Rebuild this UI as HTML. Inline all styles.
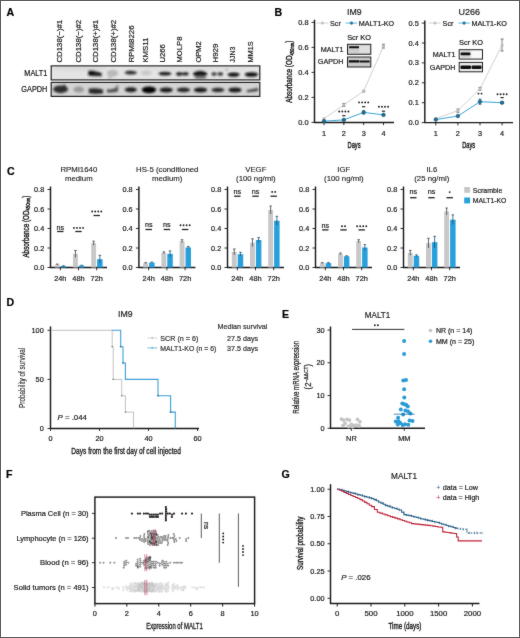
<!DOCTYPE html>
<html><head><meta charset="utf-8"><style>
html,body{margin:0;padding:0;background:#fff;}
svg{display:block;}
text{font-family:"Liberation Sans", sans-serif;}
</style></head><body>
<svg width="520" height="638" viewBox="0 0 520 638">
<defs><filter id="soft" filterUnits="userSpaceOnUse" x="0" y="0" width="520" height="638" color-interpolation-filters="sRGB"><feConvolveMatrix order="3" kernelMatrix="1 2 1 2 32 2 1 2 1" edgeMode="duplicate"/></filter></defs>
<g fill="#1a1a1a" filter="url(#soft)"><rect width="520" height="638" fill="#fff"/>
<defs><filter id="bl" x="-50%" y="-50%" width="200%" height="200%"><feGaussianBlur stdDeviation="1.0"/></filter><filter id="bl2" x="-50%" y="-50%" width="200%" height="200%"><feGaussianBlur stdDeviation="0.8"/></filter><clipPath id="cm"><rect x="51.5" y="66.5" width="208" height="13"/></clipPath><clipPath id="cg"><rect x="51.5" y="83" width="208" height="13"/></clipPath></defs>
<text x="0" y="0" transform="translate(6.50 15.50) scale(1 1.0)" font-size="10.6" fill="#000" font-weight="bold" stroke="#000" stroke-width="0.2">A</text>
<text x="0" y="0" font-size="7.6" textLength="42.8" lengthAdjust="spacingAndGlyphs" stroke="#1a1a1a" stroke-width="0.2" transform="translate(61.85 62.6) rotate(-90)">CD138(−)#1</text>
<text x="0" y="0" font-size="7.6" textLength="42.8" lengthAdjust="spacingAndGlyphs" stroke="#1a1a1a" stroke-width="0.2" transform="translate(80.85 62.6) rotate(-90)">CD138(−)#2</text>
<text x="0" y="0" font-size="7.6" textLength="42.8" lengthAdjust="spacingAndGlyphs" stroke="#1a1a1a" stroke-width="0.2" transform="translate(97.95 62.6) rotate(-90)">CD138(+)#1</text>
<text x="0" y="0" font-size="7.6" textLength="42.8" lengthAdjust="spacingAndGlyphs" stroke="#1a1a1a" stroke-width="0.2" transform="translate(116.25 62.6) rotate(-90)">CD138(+)#2</text>
<text x="0" y="0" font-size="7.6" textLength="37.2" lengthAdjust="spacingAndGlyphs" stroke="#1a1a1a" stroke-width="0.2" transform="translate(134.25 62.6) rotate(-90)">RPMI8226</text>
<text x="0" y="0" font-size="7.6" textLength="24.8" lengthAdjust="spacingAndGlyphs" stroke="#1a1a1a" stroke-width="0.2" transform="translate(148.15 62.6) rotate(-90)">KMS11</text>
<text x="0" y="0" font-size="7.6" textLength="18.4" lengthAdjust="spacingAndGlyphs" stroke="#1a1a1a" stroke-width="0.2" transform="translate(165.05 62.6) rotate(-90)">U266</text>
<text x="0" y="0" font-size="7.6" textLength="26.0" lengthAdjust="spacingAndGlyphs" stroke="#1a1a1a" stroke-width="0.2" transform="translate(181.95 62.6) rotate(-90)">MOLP8</text>
<text x="0" y="0" font-size="7.6" textLength="21.4" lengthAdjust="spacingAndGlyphs" stroke="#1a1a1a" stroke-width="0.2" transform="translate(201.15 62.6) rotate(-90)">OPM2</text>
<text x="0" y="0" font-size="7.6" textLength="19.0" lengthAdjust="spacingAndGlyphs" stroke="#1a1a1a" stroke-width="0.2" transform="translate(218.35 62.6) rotate(-90)">H929</text>
<text x="0" y="0" font-size="7.6" textLength="16.0" lengthAdjust="spacingAndGlyphs" stroke="#1a1a1a" stroke-width="0.2" transform="translate(235.05 62.6) rotate(-90)">JJN3</text>
<text x="0" y="0" font-size="7.6" textLength="21.4" lengthAdjust="spacingAndGlyphs" stroke="#1a1a1a" stroke-width="0.2" transform="translate(253.15 62.6) rotate(-90)">MM1S</text>
<text x="0" y="0" transform="translate(47.30 75.81) scale(1 1.12)" font-size="7.3" text-anchor="end" stroke="#1a1a1a" stroke-width="0.2">MALT1</text>
<text x="0" y="0" transform="translate(47.30 92.21) scale(1 1.12)" font-size="7.3" text-anchor="end" stroke="#1a1a1a" stroke-width="0.2">GAPDH</text>
<rect x="51.50" y="66.50" width="208.00" height="13.00" fill="#e4e4e4"/>
<rect x="51.50" y="83.00" width="208.00" height="13.00" fill="#d4d4d4"/>
<g clip-path="url(#cm)"><g filter="url(#bl)"><ellipse cx="80.00" cy="68.50" rx="28.00" ry="2.50" fill="#d6d6d6" fill-opacity="0.7"/><ellipse cx="190.00" cy="68.50" rx="60.00" ry="2.20" fill="#dadada" fill-opacity="0.6"/><path d="M88.3 70.2 L94 70.4 L101.5 72.8 L101.8 76.2 L95 76.3 L88.3 75.6 Z" fill="#222" fill-opacity="1"/><ellipse cx="91.20" cy="72.80" rx="2.80" ry="2.40" fill="#0a0a0a" fill-opacity="1"/><ellipse cx="112.40" cy="73.30" rx="5.60" ry="3.60" fill="#b4b4b4" fill-opacity="0.9"/><ellipse cx="109.60" cy="77.60" rx="0.80" ry="0.80" fill="#444" fill-opacity="1"/><ellipse cx="130.80" cy="72.60" rx="6.20" ry="2.00" fill="#2e2e2e" fill-opacity="1"/><ellipse cx="146.20" cy="73.00" rx="5.30" ry="2.20" fill="#c6c6c6" fill-opacity="1"/><ellipse cx="165.00" cy="73.50" rx="6.50" ry="2.10" fill="#1e1e1e" fill-opacity="1"/><ellipse cx="179.30" cy="73.80" rx="3.30" ry="2.10" fill="#2a2a2a" fill-opacity="1"/><ellipse cx="185.40" cy="73.70" rx="3.30" ry="1.90" fill="#262626" fill-opacity="1"/><ellipse cx="200.10" cy="73.80" rx="7.10" ry="3.20" fill="#121212" fill-opacity="1"/><ellipse cx="200.50" cy="77.60" rx="6.50" ry="1.60" fill="#777" fill-opacity="1"/><ellipse cx="214.00" cy="73.90" rx="2.60" ry="1.90" fill="#3a3a3a" fill-opacity="1"/><ellipse cx="220.30" cy="73.90" rx="2.80" ry="1.90" fill="#333" fill-opacity="1"/><ellipse cx="233.60" cy="74.60" rx="6.10" ry="2.20" fill="#111" fill-opacity="1"/><ellipse cx="226.60" cy="69.60" rx="0.80" ry="0.80" fill="#222" fill-opacity="1"/><ellipse cx="251.40" cy="74.50" rx="6.60" ry="2.30" fill="#111" fill-opacity="1"/></g></g>
<g clip-path="url(#cg)"><g filter="url(#bl)"><ellipse cx="60.60" cy="89.30" rx="7.40" ry="3.90" fill="#2e2e2e" fill-opacity="1"/><ellipse cx="64.40" cy="86.00" rx="0.90" ry="1.40" fill="#111" fill-opacity="1"/><ellipse cx="78.70" cy="89.60" rx="5.40" ry="3.00" fill="#9a9a9a" fill-opacity="1"/><path d="M88.8 88.6 L96 88.2 L103 89.6 L103 93.6 L95 94.0 L88.8 93.2 Z" fill="#262626" fill-opacity="1"/><path d="M107 89.6 L112 89.2 L118 87.0 L118 91.6 L112 92.4 L107 92.6 Z" fill="#4a4a4a" fill-opacity="1"/><ellipse cx="117.20" cy="86.20" rx="0.70" ry="0.90" fill="#222" fill-opacity="1"/><ellipse cx="130.80" cy="89.80" rx="6.00" ry="2.50" fill="#1a1a1a" fill-opacity="1"/><ellipse cx="149.00" cy="89.80" rx="7.20" ry="3.40" fill="#050505" fill-opacity="1"/><ellipse cx="166.20" cy="89.90" rx="6.60" ry="2.50" fill="#141414" fill-opacity="1"/><ellipse cx="183.40" cy="89.90" rx="6.60" ry="2.30" fill="#222" fill-opacity="1"/><ellipse cx="200.50" cy="89.90" rx="6.70" ry="2.50" fill="#141414" fill-opacity="1"/><ellipse cx="217.90" cy="90.00" rx="6.60" ry="2.20" fill="#262626" fill-opacity="1"/><ellipse cx="235.00" cy="89.90" rx="6.60" ry="2.50" fill="#121212" fill-opacity="1"/><path d="M246.8 90.2 L252 89.2 L258 88 L258 91 L252 91.8 L246.8 92.2 Z" fill="#383838" fill-opacity="1"/></g></g>
<rect x="51.20" y="65.90" width="208.60" height="14.00" fill="none" stroke="#222" stroke-width="1.2"/>
<rect x="51.20" y="82.40" width="208.60" height="14.00" fill="none" stroke="#222" stroke-width="1.2"/>
<text x="0" y="0" transform="translate(274.50 16.20) scale(1 1.0)" font-size="10.6" fill="#000" font-weight="bold" stroke="#000" stroke-width="0.2">B</text>
<line x1="314.50" y1="122.90" x2="314.50" y2="19.70" stroke="#1a1a1a" stroke-width="1.45"/>
<line x1="314.00" y1="122.40" x2="394.00" y2="122.40" stroke="#1a1a1a" stroke-width="1.45"/>
<line x1="311.50" y1="122.40" x2="314.50" y2="122.40" stroke="#1a1a1a" stroke-width="0.9"/>
<text x="0" y="0" transform="translate(308.50 124.95) scale(1 1.0)" font-size="7.4" text-anchor="end" textLength="10.3" lengthAdjust="spacingAndGlyphs" stroke="#1a1a1a" stroke-width="0.2">0.0</text>
<line x1="311.50" y1="97.40" x2="314.50" y2="97.40" stroke="#1a1a1a" stroke-width="0.9"/>
<text x="0" y="0" transform="translate(308.50 99.95) scale(1 1.0)" font-size="7.4" text-anchor="end" textLength="10.3" lengthAdjust="spacingAndGlyphs" stroke="#1a1a1a" stroke-width="0.2">0.2</text>
<line x1="311.50" y1="72.40" x2="314.50" y2="72.40" stroke="#1a1a1a" stroke-width="0.9"/>
<text x="0" y="0" transform="translate(308.50 74.95) scale(1 1.0)" font-size="7.4" text-anchor="end" textLength="10.3" lengthAdjust="spacingAndGlyphs" stroke="#1a1a1a" stroke-width="0.2">0.4</text>
<line x1="311.50" y1="47.40" x2="314.50" y2="47.40" stroke="#1a1a1a" stroke-width="0.9"/>
<text x="0" y="0" transform="translate(308.50 49.95) scale(1 1.0)" font-size="7.4" text-anchor="end" textLength="10.3" lengthAdjust="spacingAndGlyphs" stroke="#1a1a1a" stroke-width="0.2">0.6</text>
<line x1="311.50" y1="22.40" x2="314.50" y2="22.40" stroke="#1a1a1a" stroke-width="0.9"/>
<text x="0" y="0" transform="translate(308.50 24.95) scale(1 1.0)" font-size="7.4" text-anchor="end" textLength="10.3" lengthAdjust="spacingAndGlyphs" stroke="#1a1a1a" stroke-width="0.2">0.8</text>
<line x1="324.00" y1="122.40" x2="324.00" y2="125.20" stroke="#1a1a1a" stroke-width="0.9"/>
<text x="0" y="0" transform="translate(324.00 135.50) scale(1 1.0)" font-size="7.3" text-anchor="middle" stroke="#1a1a1a" stroke-width="0.2">1</text>
<line x1="343.83" y1="122.40" x2="343.83" y2="125.20" stroke="#1a1a1a" stroke-width="0.9"/>
<text x="0" y="0" transform="translate(343.83 135.50) scale(1 1.0)" font-size="7.3" text-anchor="middle" stroke="#1a1a1a" stroke-width="0.2">2</text>
<line x1="363.66" y1="122.40" x2="363.66" y2="125.20" stroke="#1a1a1a" stroke-width="0.9"/>
<text x="0" y="0" transform="translate(363.66 135.50) scale(1 1.0)" font-size="7.3" text-anchor="middle" stroke="#1a1a1a" stroke-width="0.2">3</text>
<line x1="383.49" y1="122.40" x2="383.49" y2="125.20" stroke="#1a1a1a" stroke-width="0.9"/>
<text x="0" y="0" transform="translate(383.49 135.50) scale(1 1.0)" font-size="7.3" text-anchor="middle" stroke="#1a1a1a" stroke-width="0.2">4</text>
<text x="0" y="0" transform="translate(354.05 147.80) scale(1 1.0)" font-size="9.2" text-anchor="middle" textLength="13" lengthAdjust="spacingAndGlyphs" stroke="#1a1a1a" stroke-width="0.42">Days</text>
<text x="0" y="0" transform="translate(354.30 14.60) scale(1 1.05)" font-size="9" text-anchor="middle" textLength="14.6" lengthAdjust="spacingAndGlyphs" stroke="#1a1a1a" stroke-width="0.18">IM9</text>
<path d="M324.00 118.65 L343.83 104.90 L363.66 91.15 L383.49 46.15" stroke="#c4c4c4" stroke-width="0.8" fill="none"/>
<circle cx="324.00" cy="118.65" r="1.6" fill="#bdbdbd"/>
<line x1="343.83" y1="103.40" x2="343.83" y2="106.40" stroke="#555" stroke-width="0.7"/>
<line x1="342.33" y1="103.40" x2="345.33" y2="103.40" stroke="#555" stroke-width="0.8"/>
<line x1="342.33" y1="106.40" x2="345.33" y2="106.40" stroke="#555" stroke-width="0.8"/>
<circle cx="343.83" cy="104.90" r="1.6" fill="#bdbdbd"/>
<line x1="363.66" y1="90.40" x2="363.66" y2="91.90" stroke="#555" stroke-width="0.7"/>
<line x1="362.16" y1="90.40" x2="365.16" y2="90.40" stroke="#555" stroke-width="0.8"/>
<line x1="362.16" y1="91.90" x2="365.16" y2="91.90" stroke="#555" stroke-width="0.8"/>
<circle cx="363.66" cy="91.15" r="1.6" fill="#bdbdbd"/>
<line x1="383.49" y1="44.28" x2="383.49" y2="48.03" stroke="#555" stroke-width="0.7"/>
<line x1="381.99" y1="44.28" x2="384.99" y2="44.28" stroke="#555" stroke-width="0.8"/>
<line x1="381.99" y1="48.03" x2="384.99" y2="48.03" stroke="#555" stroke-width="0.8"/>
<circle cx="383.49" cy="46.15" r="1.6" fill="#bdbdbd"/>
<path d="M324.00 121.15 L343.83 119.90 L363.66 112.40 L383.49 114.90" stroke="#3aa6d6" stroke-width="1.0" fill="none"/>
<circle cx="324.00" cy="121.15" r="1.8" fill="#1f6f94" stroke="#184f6a" stroke-width="0.6"/>
<circle cx="343.83" cy="119.90" r="1.8" fill="#1f6f94" stroke="#184f6a" stroke-width="0.6"/>
<line x1="363.66" y1="110.90" x2="363.66" y2="113.90" stroke="#1d5f80" stroke-width="0.8"/>
<line x1="362.16" y1="110.90" x2="365.16" y2="110.90" stroke="#1d5f80" stroke-width="0.8"/>
<line x1="362.16" y1="113.90" x2="365.16" y2="113.90" stroke="#1d5f80" stroke-width="0.8"/>
<circle cx="363.66" cy="112.40" r="1.8" fill="#1f6f94" stroke="#184f6a" stroke-width="0.6"/>
<circle cx="383.49" cy="114.90" r="1.8" fill="#1f6f94" stroke="#184f6a" stroke-width="0.6"/>
<circle cx="339.25" cy="111.50" r="0.95" fill="#1e1e1e"/>
<circle cx="342.31" cy="111.50" r="0.95" fill="#1e1e1e"/>
<circle cx="345.35" cy="111.50" r="0.95" fill="#1e1e1e"/>
<circle cx="348.40" cy="111.50" r="0.95" fill="#1e1e1e"/>
<line x1="342.23" y1="115.70" x2="345.43" y2="115.70" stroke="#222" stroke-width="1.2"/>
<circle cx="359.08" cy="102.40" r="0.95" fill="#1e1e1e"/>
<circle cx="362.13" cy="102.40" r="0.95" fill="#1e1e1e"/>
<circle cx="365.18" cy="102.40" r="0.95" fill="#1e1e1e"/>
<circle cx="368.23" cy="102.40" r="0.95" fill="#1e1e1e"/>
<line x1="362.06" y1="106.70" x2="365.26" y2="106.70" stroke="#222" stroke-width="1.2"/>
<circle cx="378.92" cy="106.80" r="0.95" fill="#1e1e1e"/>
<circle cx="381.97" cy="106.80" r="0.95" fill="#1e1e1e"/>
<circle cx="385.01" cy="106.80" r="0.95" fill="#1e1e1e"/>
<circle cx="388.06" cy="106.80" r="0.95" fill="#1e1e1e"/>
<line x1="381.89" y1="111.20" x2="385.09" y2="111.20" stroke="#222" stroke-width="1.2"/>
<line x1="316.30" y1="23.10" x2="328.30" y2="23.10" stroke="#c8c8c8" stroke-width="0.8"/>
<circle cx="322.30" cy="23.10" r="1.5" fill="#c0c0c0"/>
<text x="0" y="0" transform="translate(330.00 25.58) scale(1 1.0)" font-size="7.2" stroke="#1a1a1a" stroke-width="0.2">Scr</text>
<line x1="345.80" y1="23.10" x2="357.30" y2="23.10" stroke="#4ab0dc" stroke-width="0.9"/>
<circle cx="351.50" cy="23.10" r="1.4" fill="#1f7aa6" stroke="#1b6a90" stroke-width="0.4"/>
<text x="0" y="0" transform="translate(358.80 25.58) scale(1 1.0)" font-size="7.2" stroke="#1a1a1a" stroke-width="0.2">MALT1-KO</text>
<text x="0" y="0" transform="translate(359.10 39.85) scale(1 1.0)" font-size="7.4" text-anchor="middle" stroke="#1a1a1a" stroke-width="0.2">Scr KO</text>
<rect x="347.50" y="44.30" width="23.30" height="10.00" fill="#cdcdcd"/>
<rect x="347.50" y="57.00" width="23.30" height="10.00" fill="#c8c8c8"/>
<g><rect x="349.1" y="46.3" width="10.019" height="2.0" rx="0.6" fill="#111"/><rect x="359.15" y="45.8" width="10.718" height="7" fill="#dedede"/><rect x="348.8" y="60.2" width="10.718" height="2.4" rx="0.6" fill="#0c0c0c"/><rect x="359.849" y="60.4" width="9.786" height="2.2" rx="0.6" fill="#161616"/></g>
<rect x="347.50" y="44.30" width="23.30" height="10.00" fill="none" stroke="#222" stroke-width="1.0"/>
<rect x="347.50" y="57.00" width="23.30" height="10.00" fill="none" stroke="#222" stroke-width="1.0"/>
<text x="0" y="0" transform="translate(343.40 51.78) scale(1 1.0)" font-size="7.2" text-anchor="end" stroke="#1a1a1a" stroke-width="0.2">MALT1</text>
<text x="0" y="0" transform="translate(343.40 64.48) scale(1 1.0)" font-size="7.2" text-anchor="end" stroke="#1a1a1a" stroke-width="0.2">GAPDH</text>
<line x1="424.80" y1="123.10" x2="424.80" y2="20.40" stroke="#1a1a1a" stroke-width="1.45"/>
<line x1="424.30" y1="122.60" x2="513.00" y2="122.60" stroke="#1a1a1a" stroke-width="1.45"/>
<line x1="421.80" y1="122.60" x2="424.80" y2="122.60" stroke="#1a1a1a" stroke-width="0.9"/>
<text x="0" y="0" transform="translate(418.80 125.15) scale(1 1.0)" font-size="7.4" text-anchor="end" textLength="10.3" lengthAdjust="spacingAndGlyphs" stroke="#1a1a1a" stroke-width="0.2">0.0</text>
<line x1="421.80" y1="102.70" x2="424.80" y2="102.70" stroke="#1a1a1a" stroke-width="0.9"/>
<text x="0" y="0" transform="translate(418.80 105.25) scale(1 1.0)" font-size="7.4" text-anchor="end" textLength="10.3" lengthAdjust="spacingAndGlyphs" stroke="#1a1a1a" stroke-width="0.2">0.1</text>
<line x1="421.80" y1="82.80" x2="424.80" y2="82.80" stroke="#1a1a1a" stroke-width="0.9"/>
<text x="0" y="0" transform="translate(418.80 85.35) scale(1 1.0)" font-size="7.4" text-anchor="end" textLength="10.3" lengthAdjust="spacingAndGlyphs" stroke="#1a1a1a" stroke-width="0.2">0.2</text>
<line x1="421.80" y1="62.90" x2="424.80" y2="62.90" stroke="#1a1a1a" stroke-width="0.9"/>
<text x="0" y="0" transform="translate(418.80 65.45) scale(1 1.0)" font-size="7.4" text-anchor="end" textLength="10.3" lengthAdjust="spacingAndGlyphs" stroke="#1a1a1a" stroke-width="0.2">0.3</text>
<line x1="421.80" y1="43.00" x2="424.80" y2="43.00" stroke="#1a1a1a" stroke-width="0.9"/>
<text x="0" y="0" transform="translate(418.80 45.55) scale(1 1.0)" font-size="7.4" text-anchor="end" textLength="10.3" lengthAdjust="spacingAndGlyphs" stroke="#1a1a1a" stroke-width="0.2">0.4</text>
<line x1="421.80" y1="23.10" x2="424.80" y2="23.10" stroke="#1a1a1a" stroke-width="0.9"/>
<text x="0" y="0" transform="translate(418.80 25.65) scale(1 1.0)" font-size="7.4" text-anchor="end" textLength="10.3" lengthAdjust="spacingAndGlyphs" stroke="#1a1a1a" stroke-width="0.2">0.5</text>
<line x1="435.80" y1="122.60" x2="435.80" y2="125.40" stroke="#1a1a1a" stroke-width="0.9"/>
<text x="0" y="0" transform="translate(435.80 135.50) scale(1 1.0)" font-size="7.3" text-anchor="middle" stroke="#1a1a1a" stroke-width="0.2">1</text>
<line x1="457.90" y1="122.60" x2="457.90" y2="125.40" stroke="#1a1a1a" stroke-width="0.9"/>
<text x="0" y="0" transform="translate(457.90 135.50) scale(1 1.0)" font-size="7.3" text-anchor="middle" stroke="#1a1a1a" stroke-width="0.2">2</text>
<line x1="480.00" y1="122.60" x2="480.00" y2="125.40" stroke="#1a1a1a" stroke-width="0.9"/>
<text x="0" y="0" transform="translate(480.00 135.50) scale(1 1.0)" font-size="7.3" text-anchor="middle" stroke="#1a1a1a" stroke-width="0.2">3</text>
<line x1="502.10" y1="122.60" x2="502.10" y2="125.40" stroke="#1a1a1a" stroke-width="0.9"/>
<text x="0" y="0" transform="translate(502.10 135.50) scale(1 1.0)" font-size="7.3" text-anchor="middle" stroke="#1a1a1a" stroke-width="0.2">4</text>
<text x="0" y="0" transform="translate(468.70 147.80) scale(1 1.0)" font-size="9.2" text-anchor="middle" textLength="13" lengthAdjust="spacingAndGlyphs" stroke="#1a1a1a" stroke-width="0.42">Days</text>
<text x="0" y="0" transform="translate(469.30 14.60) scale(1 1.05)" font-size="9" text-anchor="middle" textLength="21.6" lengthAdjust="spacingAndGlyphs" stroke="#1a1a1a" stroke-width="0.18">U266</text>
<path d="M435.80 118.62 L457.90 110.66 L480.00 88.77 L502.10 44.99" stroke="#c4c4c4" stroke-width="0.8" fill="none"/>
<circle cx="435.80" cy="118.62" r="1.6" fill="#bdbdbd"/>
<line x1="457.90" y1="109.07" x2="457.90" y2="112.25" stroke="#555" stroke-width="0.7"/>
<line x1="456.40" y1="109.07" x2="459.40" y2="109.07" stroke="#555" stroke-width="0.8"/>
<line x1="456.40" y1="112.25" x2="459.40" y2="112.25" stroke="#555" stroke-width="0.8"/>
<circle cx="457.90" cy="110.66" r="1.6" fill="#bdbdbd"/>
<line x1="480.00" y1="87.38" x2="480.00" y2="90.16" stroke="#555" stroke-width="0.7"/>
<line x1="478.50" y1="87.38" x2="481.50" y2="87.38" stroke="#555" stroke-width="0.8"/>
<line x1="478.50" y1="90.16" x2="481.50" y2="90.16" stroke="#555" stroke-width="0.8"/>
<circle cx="480.00" cy="88.77" r="1.6" fill="#bdbdbd"/>
<line x1="502.10" y1="39.02" x2="502.10" y2="50.96" stroke="#555" stroke-width="0.7"/>
<line x1="500.60" y1="39.02" x2="503.60" y2="39.02" stroke="#555" stroke-width="0.8"/>
<line x1="500.60" y1="50.96" x2="503.60" y2="50.96" stroke="#555" stroke-width="0.8"/>
<circle cx="502.10" cy="44.99" r="1.6" fill="#bdbdbd"/>
<path d="M435.80 119.61 L457.90 116.03 L480.00 101.70 L502.10 102.70" stroke="#3aa6d6" stroke-width="1.0" fill="none"/>
<circle cx="435.80" cy="119.61" r="1.8" fill="#1f6f94" stroke="#184f6a" stroke-width="0.6"/>
<circle cx="457.90" cy="116.03" r="1.8" fill="#1f6f94" stroke="#184f6a" stroke-width="0.6"/>
<line x1="480.00" y1="99.12" x2="480.00" y2="104.29" stroke="#1d5f80" stroke-width="0.8"/>
<line x1="478.50" y1="99.12" x2="481.50" y2="99.12" stroke="#1d5f80" stroke-width="0.8"/>
<line x1="478.50" y1="104.29" x2="481.50" y2="104.29" stroke="#1d5f80" stroke-width="0.8"/>
<circle cx="480.00" cy="101.70" r="1.8" fill="#1f6f94" stroke="#184f6a" stroke-width="0.6"/>
<line x1="502.10" y1="101.90" x2="502.10" y2="103.50" stroke="#1d5f80" stroke-width="0.8"/>
<line x1="500.60" y1="101.90" x2="503.60" y2="101.90" stroke="#1d5f80" stroke-width="0.8"/>
<line x1="500.60" y1="103.50" x2="503.60" y2="103.50" stroke="#1d5f80" stroke-width="0.8"/>
<circle cx="502.10" cy="102.70" r="1.8" fill="#1f6f94" stroke="#184f6a" stroke-width="0.6"/>
<circle cx="478.48" cy="93.60" r="0.95" fill="#1e1e1e"/>
<circle cx="481.52" cy="93.60" r="0.95" fill="#1e1e1e"/>
<circle cx="497.53" cy="94.20" r="0.95" fill="#1e1e1e"/>
<circle cx="500.58" cy="94.20" r="0.95" fill="#1e1e1e"/>
<circle cx="503.62" cy="94.20" r="0.95" fill="#1e1e1e"/>
<circle cx="506.68" cy="94.20" r="0.95" fill="#1e1e1e"/>
<line x1="500.50" y1="97.60" x2="503.70" y2="97.60" stroke="#222" stroke-width="1.2"/>
<line x1="428.90" y1="23.10" x2="440.90" y2="23.10" stroke="#c8c8c8" stroke-width="0.8"/>
<circle cx="434.90" cy="23.10" r="1.5" fill="#c0c0c0"/>
<text x="0" y="0" transform="translate(442.60 25.58) scale(1 1.0)" font-size="7.2" stroke="#1a1a1a" stroke-width="0.2">Scr</text>
<line x1="458.40" y1="23.10" x2="469.90" y2="23.10" stroke="#4ab0dc" stroke-width="0.9"/>
<circle cx="464.10" cy="23.10" r="1.4" fill="#1f7aa6" stroke="#1b6a90" stroke-width="0.4"/>
<text x="0" y="0" transform="translate(471.40 25.58) scale(1 1.0)" font-size="7.2" stroke="#1a1a1a" stroke-width="0.2">MALT1-KO</text>
<text x="0" y="0" transform="translate(471.00 45.25) scale(1 1.0)" font-size="7.4" text-anchor="middle" stroke="#1a1a1a" stroke-width="0.2">Scr KO</text>
<rect x="459.20" y="49.70" width="23.30" height="9.40" fill="#f8f8f8"/>
<rect x="459.20" y="62.40" width="23.30" height="9.40" fill="#ececec"/>
<g filter="url(#bl2)"><rect x="460.4" y="50.7" width="10.252" height="7.4" fill="#cccccc"/></g><rect x="460.59999999999997" y="52.6" width="9.786" height="2.6" rx="0.8" fill="#111"/><rect x="460.5" y="65.5" width="10.485000000000001" height="3.4" rx="1" fill="#0e0e0e"/><rect x="471.549" y="65.5" width="10.019" height="3.4" rx="1" fill="#121212"/>
<rect x="459.20" y="49.70" width="23.30" height="9.40" fill="none" stroke="#222" stroke-width="1.0"/>
<rect x="459.20" y="62.40" width="23.30" height="9.40" fill="none" stroke="#222" stroke-width="1.0"/>
<text x="0" y="0" transform="translate(455.40 56.88) scale(1 1.0)" font-size="7.2" text-anchor="end" stroke="#1a1a1a" stroke-width="0.2">MALT1</text>
<text x="0" y="0" transform="translate(455.40 69.58) scale(1 1.0)" font-size="7.2" text-anchor="end" stroke="#1a1a1a" stroke-width="0.2">GAPDH</text>
<text x="0" y="0" font-size="8.4" text-anchor="middle" textLength="62" lengthAdjust="spacingAndGlyphs" stroke="#1a1a1a" stroke-width="0.38" transform="translate(292.30 71.70) rotate(-90) scale(1 1.0)">Absorbance (OD<tspan font-size="5.5" dy="1.6">450nm</tspan><tspan dy="-1.6">)</tspan></text>
<text x="0" y="0" transform="translate(7.00 174.90) scale(1 1.0)" font-size="10.6" fill="#000" font-weight="bold" stroke="#000" stroke-width="0.2">C</text>
<line x1="50.50" y1="268.00" x2="50.50" y2="186.50" stroke="#1a1a1a" stroke-width="1.45"/>
<line x1="50.00" y1="267.50" x2="107.00" y2="267.50" stroke="#1a1a1a" stroke-width="1.45"/>
<line x1="47.50" y1="267.50" x2="50.50" y2="267.50" stroke="#1a1a1a" stroke-width="0.9"/>
<text x="0" y="0" transform="translate(44.20 270.01) scale(1 1.0)" font-size="7.3" text-anchor="end" stroke="#1a1a1a" stroke-width="0.2">0.0</text>
<line x1="47.50" y1="248.00" x2="50.50" y2="248.00" stroke="#1a1a1a" stroke-width="0.9"/>
<text x="0" y="0" transform="translate(44.20 250.51) scale(1 1.0)" font-size="7.3" text-anchor="end" stroke="#1a1a1a" stroke-width="0.2">0.2</text>
<line x1="47.50" y1="228.50" x2="50.50" y2="228.50" stroke="#1a1a1a" stroke-width="0.9"/>
<text x="0" y="0" transform="translate(44.20 231.01) scale(1 1.0)" font-size="7.3" text-anchor="end" stroke="#1a1a1a" stroke-width="0.2">0.4</text>
<line x1="47.50" y1="209.00" x2="50.50" y2="209.00" stroke="#1a1a1a" stroke-width="0.9"/>
<text x="0" y="0" transform="translate(44.20 211.51) scale(1 1.0)" font-size="7.3" text-anchor="end" stroke="#1a1a1a" stroke-width="0.2">0.6</text>
<line x1="47.50" y1="189.50" x2="50.50" y2="189.50" stroke="#1a1a1a" stroke-width="0.9"/>
<text x="0" y="0" transform="translate(44.20 192.01) scale(1 1.0)" font-size="7.3" text-anchor="end" stroke="#1a1a1a" stroke-width="0.2">0.8</text>
<text x="0" y="0" transform="translate(78.80 172.00) scale(1 1.0)" font-size="7.8" text-anchor="middle" stroke="#1a1a1a" stroke-width="0.12">RPMI1640</text>
<text x="0" y="0" transform="translate(78.80 180.70) scale(1 1.0)" font-size="7.8" text-anchor="middle" stroke="#1a1a1a" stroke-width="0.12">medium</text>
<line x1="60.30" y1="267.50" x2="60.30" y2="270.30" stroke="#1a1a1a" stroke-width="0.9"/>
<text x="0" y="0" transform="translate(60.30 280.60) scale(1 1.0)" font-size="7.4" text-anchor="middle" stroke="#1a1a1a" stroke-width="0.2">24h</text>
<rect x="54.80" y="264.57" width="4.90" height="2.92" fill="#c8c8c8"/>
<rect x="60.70" y="266.04" width="5.50" height="1.46" fill="#29a0dc"/>
<line x1="57.25" y1="264.09" x2="57.25" y2="265.06" stroke="#444" stroke-width="0.8"/>
<line x1="55.95" y1="264.09" x2="58.55" y2="264.09" stroke="#444" stroke-width="0.8"/>
<line x1="63.45" y1="265.75" x2="63.45" y2="266.33" stroke="#1d4f70" stroke-width="0.8"/>
<line x1="62.15" y1="265.75" x2="64.75" y2="265.75" stroke="#1d4f70" stroke-width="0.8"/>
<text x="0" y="0" transform="translate(60.30 229.58) scale(1 1.0)" font-size="7.2" text-anchor="middle" fill="#222" stroke="#222" stroke-width="0.2">ns</text>
<line x1="57.10" y1="231.50" x2="63.50" y2="231.50" stroke="#222" stroke-width="1.3"/>
<line x1="78.50" y1="267.50" x2="78.50" y2="270.30" stroke="#1a1a1a" stroke-width="0.9"/>
<text x="0" y="0" transform="translate(78.50 280.60) scale(1 1.0)" font-size="7.4" text-anchor="middle" stroke="#1a1a1a" stroke-width="0.2">48h</text>
<rect x="73.00" y="253.85" width="4.90" height="13.65" fill="#c8c8c8"/>
<rect x="78.90" y="265.55" width="5.50" height="1.95" fill="#29a0dc"/>
<line x1="75.45" y1="250.44" x2="75.45" y2="257.26" stroke="#444" stroke-width="0.8"/>
<line x1="74.15" y1="250.44" x2="76.75" y2="250.44" stroke="#444" stroke-width="0.8"/>
<line x1="81.65" y1="265.26" x2="81.65" y2="265.84" stroke="#1d4f70" stroke-width="0.8"/>
<line x1="80.35" y1="265.26" x2="82.95" y2="265.26" stroke="#1d4f70" stroke-width="0.8"/>
<circle cx="73.92" cy="227.90" r="0.95" fill="#1e1e1e"/>
<circle cx="76.97" cy="227.90" r="0.95" fill="#1e1e1e"/>
<circle cx="80.03" cy="227.90" r="0.95" fill="#1e1e1e"/>
<circle cx="83.08" cy="227.90" r="0.95" fill="#1e1e1e"/>
<line x1="75.30" y1="231.50" x2="81.70" y2="231.50" stroke="#222" stroke-width="1.3"/>
<line x1="96.70" y1="267.50" x2="96.70" y2="270.30" stroke="#1a1a1a" stroke-width="0.9"/>
<text x="0" y="0" transform="translate(96.70 280.60) scale(1 1.0)" font-size="7.4" text-anchor="middle" stroke="#1a1a1a" stroke-width="0.2">72h</text>
<rect x="91.20" y="243.12" width="4.90" height="24.38" fill="#c8c8c8"/>
<rect x="97.10" y="259.21" width="5.50" height="8.29" fill="#29a0dc"/>
<line x1="93.65" y1="241.18" x2="93.65" y2="245.07" stroke="#444" stroke-width="0.8"/>
<line x1="92.35" y1="241.18" x2="94.95" y2="241.18" stroke="#444" stroke-width="0.8"/>
<line x1="99.85" y1="255.31" x2="99.85" y2="263.11" stroke="#1d4f70" stroke-width="0.8"/>
<line x1="98.55" y1="255.31" x2="101.15" y2="255.31" stroke="#1d4f70" stroke-width="0.8"/>
<circle cx="92.12" cy="211.50" r="0.95" fill="#1e1e1e"/>
<circle cx="95.17" cy="211.50" r="0.95" fill="#1e1e1e"/>
<circle cx="98.22" cy="211.50" r="0.95" fill="#1e1e1e"/>
<circle cx="101.27" cy="211.50" r="0.95" fill="#1e1e1e"/>
<line x1="93.50" y1="215.50" x2="99.90" y2="215.50" stroke="#222" stroke-width="1.3"/>
<line x1="138.90" y1="268.00" x2="138.90" y2="186.50" stroke="#1a1a1a" stroke-width="1.45"/>
<line x1="138.40" y1="267.50" x2="195.40" y2="267.50" stroke="#1a1a1a" stroke-width="1.45"/>
<line x1="135.90" y1="267.50" x2="138.90" y2="267.50" stroke="#1a1a1a" stroke-width="0.9"/>
<text x="0" y="0" transform="translate(132.60 270.01) scale(1 1.0)" font-size="7.3" text-anchor="end" stroke="#1a1a1a" stroke-width="0.2">0.0</text>
<line x1="135.90" y1="248.00" x2="138.90" y2="248.00" stroke="#1a1a1a" stroke-width="0.9"/>
<text x="0" y="0" transform="translate(132.60 250.51) scale(1 1.0)" font-size="7.3" text-anchor="end" stroke="#1a1a1a" stroke-width="0.2">0.2</text>
<line x1="135.90" y1="228.50" x2="138.90" y2="228.50" stroke="#1a1a1a" stroke-width="0.9"/>
<text x="0" y="0" transform="translate(132.60 231.01) scale(1 1.0)" font-size="7.3" text-anchor="end" stroke="#1a1a1a" stroke-width="0.2">0.4</text>
<line x1="135.90" y1="209.00" x2="138.90" y2="209.00" stroke="#1a1a1a" stroke-width="0.9"/>
<text x="0" y="0" transform="translate(132.60 211.51) scale(1 1.0)" font-size="7.3" text-anchor="end" stroke="#1a1a1a" stroke-width="0.2">0.6</text>
<line x1="135.90" y1="189.50" x2="138.90" y2="189.50" stroke="#1a1a1a" stroke-width="0.9"/>
<text x="0" y="0" transform="translate(132.60 192.01) scale(1 1.0)" font-size="7.3" text-anchor="end" stroke="#1a1a1a" stroke-width="0.2">0.8</text>
<text x="0" y="0" transform="translate(167.20 172.00) scale(1 1.0)" font-size="7.8" text-anchor="middle" stroke="#1a1a1a" stroke-width="0.12">HS-5 (conditioned</text>
<text x="0" y="0" transform="translate(167.20 180.70) scale(1 1.0)" font-size="7.8" text-anchor="middle" stroke="#1a1a1a" stroke-width="0.12">medium)</text>
<line x1="148.70" y1="267.50" x2="148.70" y2="270.30" stroke="#1a1a1a" stroke-width="0.9"/>
<text x="0" y="0" transform="translate(148.70 280.60) scale(1 1.0)" font-size="7.4" text-anchor="middle" stroke="#1a1a1a" stroke-width="0.2">24h</text>
<rect x="143.20" y="263.11" width="4.90" height="4.39" fill="#c8c8c8"/>
<rect x="149.10" y="262.62" width="5.50" height="4.88" fill="#29a0dc"/>
<line x1="145.65" y1="262.62" x2="145.65" y2="263.60" stroke="#444" stroke-width="0.8"/>
<line x1="144.35" y1="262.62" x2="146.95" y2="262.62" stroke="#444" stroke-width="0.8"/>
<line x1="151.85" y1="262.14" x2="151.85" y2="263.11" stroke="#1d4f70" stroke-width="0.8"/>
<line x1="150.55" y1="262.14" x2="153.15" y2="262.14" stroke="#1d4f70" stroke-width="0.8"/>
<text x="0" y="0" transform="translate(148.70 227.28) scale(1 1.0)" font-size="7.2" text-anchor="middle" fill="#222" stroke="#222" stroke-width="0.2">ns</text>
<line x1="145.50" y1="229.50" x2="151.90" y2="229.50" stroke="#222" stroke-width="1.3"/>
<line x1="166.90" y1="267.50" x2="166.90" y2="270.30" stroke="#1a1a1a" stroke-width="0.9"/>
<text x="0" y="0" transform="translate(166.90 280.60) scale(1 1.0)" font-size="7.4" text-anchor="middle" stroke="#1a1a1a" stroke-width="0.2">48h</text>
<rect x="161.40" y="252.88" width="4.90" height="14.62" fill="#c8c8c8"/>
<rect x="167.30" y="253.85" width="5.50" height="13.65" fill="#29a0dc"/>
<line x1="163.85" y1="251.90" x2="163.85" y2="253.85" stroke="#444" stroke-width="0.8"/>
<line x1="162.55" y1="251.90" x2="165.15" y2="251.90" stroke="#444" stroke-width="0.8"/>
<line x1="170.05" y1="250.93" x2="170.05" y2="256.77" stroke="#1d4f70" stroke-width="0.8"/>
<line x1="168.75" y1="250.93" x2="171.35" y2="250.93" stroke="#1d4f70" stroke-width="0.8"/>
<text x="0" y="0" transform="translate(166.90 227.28) scale(1 1.0)" font-size="7.2" text-anchor="middle" fill="#222" stroke="#222" stroke-width="0.2">ns</text>
<line x1="163.70" y1="229.50" x2="170.10" y2="229.50" stroke="#222" stroke-width="1.3"/>
<line x1="185.10" y1="267.50" x2="185.10" y2="270.30" stroke="#1a1a1a" stroke-width="0.9"/>
<text x="0" y="0" transform="translate(185.10 280.60) scale(1 1.0)" font-size="7.4" text-anchor="middle" stroke="#1a1a1a" stroke-width="0.2">72h</text>
<rect x="179.60" y="241.18" width="4.90" height="26.33" fill="#c8c8c8"/>
<rect x="185.50" y="247.51" width="5.50" height="19.99" fill="#29a0dc"/>
<line x1="182.05" y1="239.71" x2="182.05" y2="242.64" stroke="#444" stroke-width="0.8"/>
<line x1="180.75" y1="239.71" x2="183.35" y2="239.71" stroke="#444" stroke-width="0.8"/>
<line x1="188.25" y1="246.54" x2="188.25" y2="248.49" stroke="#1d4f70" stroke-width="0.8"/>
<line x1="186.95" y1="246.54" x2="189.55" y2="246.54" stroke="#1d4f70" stroke-width="0.8"/>
<circle cx="180.53" cy="225.20" r="0.95" fill="#1e1e1e"/>
<circle cx="183.58" cy="225.20" r="0.95" fill="#1e1e1e"/>
<circle cx="186.63" cy="225.20" r="0.95" fill="#1e1e1e"/>
<circle cx="189.68" cy="225.20" r="0.95" fill="#1e1e1e"/>
<line x1="181.90" y1="229.50" x2="188.30" y2="229.50" stroke="#222" stroke-width="1.3"/>
<line x1="227.50" y1="268.00" x2="227.50" y2="186.50" stroke="#1a1a1a" stroke-width="1.45"/>
<line x1="227.00" y1="267.50" x2="284.00" y2="267.50" stroke="#1a1a1a" stroke-width="1.45"/>
<line x1="224.50" y1="267.50" x2="227.50" y2="267.50" stroke="#1a1a1a" stroke-width="0.9"/>
<text x="0" y="0" transform="translate(221.20 270.01) scale(1 1.0)" font-size="7.3" text-anchor="end" stroke="#1a1a1a" stroke-width="0.2">0.0</text>
<line x1="224.50" y1="248.00" x2="227.50" y2="248.00" stroke="#1a1a1a" stroke-width="0.9"/>
<text x="0" y="0" transform="translate(221.20 250.51) scale(1 1.0)" font-size="7.3" text-anchor="end" stroke="#1a1a1a" stroke-width="0.2">0.2</text>
<line x1="224.50" y1="228.50" x2="227.50" y2="228.50" stroke="#1a1a1a" stroke-width="0.9"/>
<text x="0" y="0" transform="translate(221.20 231.01) scale(1 1.0)" font-size="7.3" text-anchor="end" stroke="#1a1a1a" stroke-width="0.2">0.4</text>
<line x1="224.50" y1="209.00" x2="227.50" y2="209.00" stroke="#1a1a1a" stroke-width="0.9"/>
<text x="0" y="0" transform="translate(221.20 211.51) scale(1 1.0)" font-size="7.3" text-anchor="end" stroke="#1a1a1a" stroke-width="0.2">0.6</text>
<line x1="224.50" y1="189.50" x2="227.50" y2="189.50" stroke="#1a1a1a" stroke-width="0.9"/>
<text x="0" y="0" transform="translate(221.20 192.01) scale(1 1.0)" font-size="7.3" text-anchor="end" stroke="#1a1a1a" stroke-width="0.2">0.8</text>
<text x="0" y="0" transform="translate(255.80 172.00) scale(1 1.0)" font-size="7.8" text-anchor="middle" stroke="#1a1a1a" stroke-width="0.12">VEGF</text>
<text x="0" y="0" transform="translate(255.80 180.70) scale(1 1.0)" font-size="7.8" text-anchor="middle" stroke="#1a1a1a" stroke-width="0.12">(100 ng/ml)</text>
<line x1="237.30" y1="267.50" x2="237.30" y2="270.30" stroke="#1a1a1a" stroke-width="0.9"/>
<text x="0" y="0" transform="translate(237.30 280.60) scale(1 1.0)" font-size="7.4" text-anchor="middle" stroke="#1a1a1a" stroke-width="0.2">24h</text>
<rect x="231.80" y="251.90" width="4.90" height="15.60" fill="#c8c8c8"/>
<rect x="237.70" y="254.24" width="5.50" height="13.26" fill="#29a0dc"/>
<line x1="234.25" y1="248.97" x2="234.25" y2="254.82" stroke="#444" stroke-width="0.8"/>
<line x1="232.95" y1="248.97" x2="235.55" y2="248.97" stroke="#444" stroke-width="0.8"/>
<line x1="240.45" y1="252.29" x2="240.45" y2="256.19" stroke="#1d4f70" stroke-width="0.8"/>
<line x1="239.15" y1="252.29" x2="241.75" y2="252.29" stroke="#1d4f70" stroke-width="0.8"/>
<text x="0" y="0" transform="translate(237.30 193.98) scale(1 1.0)" font-size="7.2" text-anchor="middle" fill="#222" stroke="#222" stroke-width="0.2">ns</text>
<line x1="234.10" y1="196.20" x2="240.50" y2="196.20" stroke="#222" stroke-width="1.3"/>
<line x1="255.50" y1="267.50" x2="255.50" y2="270.30" stroke="#1a1a1a" stroke-width="0.9"/>
<text x="0" y="0" transform="translate(255.50 280.60) scale(1 1.0)" font-size="7.4" text-anchor="middle" stroke="#1a1a1a" stroke-width="0.2">48h</text>
<rect x="250.00" y="242.74" width="4.90" height="24.77" fill="#c8c8c8"/>
<rect x="255.90" y="240.00" width="5.50" height="27.49" fill="#29a0dc"/>
<line x1="252.45" y1="238.84" x2="252.45" y2="246.63" stroke="#444" stroke-width="0.8"/>
<line x1="251.15" y1="238.84" x2="253.75" y2="238.84" stroke="#444" stroke-width="0.8"/>
<line x1="258.65" y1="237.57" x2="258.65" y2="242.44" stroke="#1d4f70" stroke-width="0.8"/>
<line x1="257.35" y1="237.57" x2="259.95" y2="237.57" stroke="#1d4f70" stroke-width="0.8"/>
<text x="0" y="0" transform="translate(255.50 193.98) scale(1 1.0)" font-size="7.2" text-anchor="middle" fill="#222" stroke="#222" stroke-width="0.2">ns</text>
<line x1="252.30" y1="196.20" x2="258.70" y2="196.20" stroke="#222" stroke-width="1.3"/>
<line x1="273.70" y1="267.50" x2="273.70" y2="270.30" stroke="#1a1a1a" stroke-width="0.9"/>
<text x="0" y="0" transform="translate(273.70 280.60) scale(1 1.0)" font-size="7.4" text-anchor="middle" stroke="#1a1a1a" stroke-width="0.2">72h</text>
<rect x="268.20" y="209.97" width="4.90" height="57.52" fill="#c8c8c8"/>
<rect x="274.10" y="220.70" width="5.50" height="46.80" fill="#29a0dc"/>
<line x1="270.65" y1="206.07" x2="270.65" y2="213.88" stroke="#444" stroke-width="0.8"/>
<line x1="269.35" y1="206.07" x2="271.95" y2="206.07" stroke="#444" stroke-width="0.8"/>
<line x1="276.85" y1="216.31" x2="276.85" y2="225.09" stroke="#1d4f70" stroke-width="0.8"/>
<line x1="275.55" y1="216.31" x2="278.15" y2="216.31" stroke="#1d4f70" stroke-width="0.8"/>
<circle cx="272.18" cy="191.90" r="0.95" fill="#1e1e1e"/>
<circle cx="275.22" cy="191.90" r="0.95" fill="#1e1e1e"/>
<line x1="270.50" y1="196.20" x2="276.90" y2="196.20" stroke="#222" stroke-width="1.3"/>
<line x1="315.50" y1="268.00" x2="315.50" y2="186.50" stroke="#1a1a1a" stroke-width="1.45"/>
<line x1="315.00" y1="267.50" x2="372.00" y2="267.50" stroke="#1a1a1a" stroke-width="1.45"/>
<line x1="312.50" y1="267.50" x2="315.50" y2="267.50" stroke="#1a1a1a" stroke-width="0.9"/>
<text x="0" y="0" transform="translate(309.20 270.01) scale(1 1.0)" font-size="7.3" text-anchor="end" stroke="#1a1a1a" stroke-width="0.2">0.0</text>
<line x1="312.50" y1="248.00" x2="315.50" y2="248.00" stroke="#1a1a1a" stroke-width="0.9"/>
<text x="0" y="0" transform="translate(309.20 250.51) scale(1 1.0)" font-size="7.3" text-anchor="end" stroke="#1a1a1a" stroke-width="0.2">0.2</text>
<line x1="312.50" y1="228.50" x2="315.50" y2="228.50" stroke="#1a1a1a" stroke-width="0.9"/>
<text x="0" y="0" transform="translate(309.20 231.01) scale(1 1.0)" font-size="7.3" text-anchor="end" stroke="#1a1a1a" stroke-width="0.2">0.4</text>
<line x1="312.50" y1="209.00" x2="315.50" y2="209.00" stroke="#1a1a1a" stroke-width="0.9"/>
<text x="0" y="0" transform="translate(309.20 211.51) scale(1 1.0)" font-size="7.3" text-anchor="end" stroke="#1a1a1a" stroke-width="0.2">0.6</text>
<line x1="312.50" y1="189.50" x2="315.50" y2="189.50" stroke="#1a1a1a" stroke-width="0.9"/>
<text x="0" y="0" transform="translate(309.20 192.01) scale(1 1.0)" font-size="7.3" text-anchor="end" stroke="#1a1a1a" stroke-width="0.2">0.8</text>
<text x="0" y="0" transform="translate(343.80 172.00) scale(1 1.0)" font-size="7.8" text-anchor="middle" stroke="#1a1a1a" stroke-width="0.12">IGF</text>
<text x="0" y="0" transform="translate(343.80 180.70) scale(1 1.0)" font-size="7.8" text-anchor="middle" stroke="#1a1a1a" stroke-width="0.12">(100 ng/ml)</text>
<line x1="325.30" y1="267.50" x2="325.30" y2="270.30" stroke="#1a1a1a" stroke-width="0.9"/>
<text x="0" y="0" transform="translate(325.30 280.60) scale(1 1.0)" font-size="7.4" text-anchor="middle" stroke="#1a1a1a" stroke-width="0.2">24h</text>
<rect x="319.80" y="263.11" width="4.90" height="4.39" fill="#c8c8c8"/>
<rect x="325.70" y="263.11" width="5.50" height="4.39" fill="#29a0dc"/>
<line x1="322.25" y1="262.62" x2="322.25" y2="263.60" stroke="#444" stroke-width="0.8"/>
<line x1="320.95" y1="262.62" x2="323.55" y2="262.62" stroke="#444" stroke-width="0.8"/>
<line x1="328.45" y1="262.62" x2="328.45" y2="263.60" stroke="#1d4f70" stroke-width="0.8"/>
<line x1="327.15" y1="262.62" x2="329.75" y2="262.62" stroke="#1d4f70" stroke-width="0.8"/>
<text x="0" y="0" transform="translate(325.30 228.28) scale(1 1.0)" font-size="7.2" text-anchor="middle" fill="#222" stroke="#222" stroke-width="0.2">ns</text>
<line x1="322.10" y1="229.90" x2="328.50" y2="229.90" stroke="#222" stroke-width="1.3"/>
<line x1="343.50" y1="267.50" x2="343.50" y2="270.30" stroke="#1a1a1a" stroke-width="0.9"/>
<text x="0" y="0" transform="translate(343.50 280.60) scale(1 1.0)" font-size="7.4" text-anchor="middle" stroke="#1a1a1a" stroke-width="0.2">48h</text>
<rect x="338.00" y="253.85" width="4.90" height="13.65" fill="#c8c8c8"/>
<rect x="343.90" y="256.29" width="5.50" height="11.21" fill="#29a0dc"/>
<line x1="340.45" y1="253.07" x2="340.45" y2="254.63" stroke="#444" stroke-width="0.8"/>
<line x1="339.15" y1="253.07" x2="341.75" y2="253.07" stroke="#444" stroke-width="0.8"/>
<line x1="346.65" y1="255.80" x2="346.65" y2="256.77" stroke="#1d4f70" stroke-width="0.8"/>
<line x1="345.35" y1="255.80" x2="347.95" y2="255.80" stroke="#1d4f70" stroke-width="0.8"/>
<circle cx="341.98" cy="226.20" r="0.95" fill="#1e1e1e"/>
<circle cx="345.02" cy="226.20" r="0.95" fill="#1e1e1e"/>
<line x1="340.30" y1="229.90" x2="346.70" y2="229.90" stroke="#222" stroke-width="1.3"/>
<line x1="361.70" y1="267.50" x2="361.70" y2="270.30" stroke="#1a1a1a" stroke-width="0.9"/>
<text x="0" y="0" transform="translate(361.70 280.60) scale(1 1.0)" font-size="7.4" text-anchor="middle" stroke="#1a1a1a" stroke-width="0.2">72h</text>
<rect x="356.20" y="241.18" width="4.90" height="26.33" fill="#c8c8c8"/>
<rect x="362.10" y="247.51" width="5.50" height="19.99" fill="#29a0dc"/>
<line x1="358.65" y1="239.71" x2="358.65" y2="242.64" stroke="#444" stroke-width="0.8"/>
<line x1="357.35" y1="239.71" x2="359.95" y2="239.71" stroke="#444" stroke-width="0.8"/>
<line x1="364.85" y1="244.59" x2="364.85" y2="250.44" stroke="#1d4f70" stroke-width="0.8"/>
<line x1="363.55" y1="244.59" x2="366.15" y2="244.59" stroke="#1d4f70" stroke-width="0.8"/>
<circle cx="357.12" cy="226.20" r="0.95" fill="#1e1e1e"/>
<circle cx="360.18" cy="226.20" r="0.95" fill="#1e1e1e"/>
<circle cx="363.22" cy="226.20" r="0.95" fill="#1e1e1e"/>
<circle cx="366.27" cy="226.20" r="0.95" fill="#1e1e1e"/>
<line x1="358.50" y1="229.90" x2="364.90" y2="229.90" stroke="#222" stroke-width="1.3"/>
<line x1="403.50" y1="268.00" x2="403.50" y2="186.50" stroke="#1a1a1a" stroke-width="1.45"/>
<line x1="403.00" y1="267.50" x2="460.00" y2="267.50" stroke="#1a1a1a" stroke-width="1.45"/>
<line x1="400.50" y1="267.50" x2="403.50" y2="267.50" stroke="#1a1a1a" stroke-width="0.9"/>
<text x="0" y="0" transform="translate(397.20 270.01) scale(1 1.0)" font-size="7.3" text-anchor="end" stroke="#1a1a1a" stroke-width="0.2">0.0</text>
<line x1="400.50" y1="248.00" x2="403.50" y2="248.00" stroke="#1a1a1a" stroke-width="0.9"/>
<text x="0" y="0" transform="translate(397.20 250.51) scale(1 1.0)" font-size="7.3" text-anchor="end" stroke="#1a1a1a" stroke-width="0.2">0.2</text>
<line x1="400.50" y1="228.50" x2="403.50" y2="228.50" stroke="#1a1a1a" stroke-width="0.9"/>
<text x="0" y="0" transform="translate(397.20 231.01) scale(1 1.0)" font-size="7.3" text-anchor="end" stroke="#1a1a1a" stroke-width="0.2">0.4</text>
<line x1="400.50" y1="209.00" x2="403.50" y2="209.00" stroke="#1a1a1a" stroke-width="0.9"/>
<text x="0" y="0" transform="translate(397.20 211.51) scale(1 1.0)" font-size="7.3" text-anchor="end" stroke="#1a1a1a" stroke-width="0.2">0.6</text>
<line x1="400.50" y1="189.50" x2="403.50" y2="189.50" stroke="#1a1a1a" stroke-width="0.9"/>
<text x="0" y="0" transform="translate(397.20 192.01) scale(1 1.0)" font-size="7.3" text-anchor="end" stroke="#1a1a1a" stroke-width="0.2">0.8</text>
<text x="0" y="0" transform="translate(431.80 172.00) scale(1 1.0)" font-size="7.8" text-anchor="middle" stroke="#1a1a1a" stroke-width="0.12">IL6</text>
<text x="0" y="0" transform="translate(431.80 180.70) scale(1 1.0)" font-size="7.8" text-anchor="middle" stroke="#1a1a1a" stroke-width="0.12">(25 ng/ml)</text>
<line x1="413.30" y1="267.50" x2="413.30" y2="270.30" stroke="#1a1a1a" stroke-width="0.9"/>
<text x="0" y="0" transform="translate(413.30 280.60) scale(1 1.0)" font-size="7.4" text-anchor="middle" stroke="#1a1a1a" stroke-width="0.2">24h</text>
<rect x="407.80" y="252.88" width="4.90" height="14.62" fill="#c8c8c8"/>
<rect x="413.70" y="255.80" width="5.50" height="11.70" fill="#29a0dc"/>
<line x1="410.25" y1="250.44" x2="410.25" y2="255.31" stroke="#444" stroke-width="0.8"/>
<line x1="408.95" y1="250.44" x2="411.55" y2="250.44" stroke="#444" stroke-width="0.8"/>
<line x1="416.45" y1="254.82" x2="416.45" y2="256.77" stroke="#1d4f70" stroke-width="0.8"/>
<line x1="415.15" y1="254.82" x2="417.75" y2="254.82" stroke="#1d4f70" stroke-width="0.8"/>
<text x="0" y="0" transform="translate(413.30 194.18) scale(1 1.0)" font-size="7.2" text-anchor="middle" fill="#222" stroke="#222" stroke-width="0.2">ns</text>
<line x1="410.10" y1="197.70" x2="416.50" y2="197.70" stroke="#222" stroke-width="1.3"/>
<line x1="431.50" y1="267.50" x2="431.50" y2="270.30" stroke="#1a1a1a" stroke-width="0.9"/>
<text x="0" y="0" transform="translate(431.50 280.60) scale(1 1.0)" font-size="7.4" text-anchor="middle" stroke="#1a1a1a" stroke-width="0.2">48h</text>
<rect x="426.00" y="243.12" width="4.90" height="24.38" fill="#c8c8c8"/>
<rect x="431.90" y="242.15" width="5.50" height="25.35" fill="#29a0dc"/>
<line x1="428.45" y1="238.25" x2="428.45" y2="248.00" stroke="#444" stroke-width="0.8"/>
<line x1="427.15" y1="238.25" x2="429.75" y2="238.25" stroke="#444" stroke-width="0.8"/>
<line x1="434.65" y1="236.30" x2="434.65" y2="248.00" stroke="#1d4f70" stroke-width="0.8"/>
<line x1="433.35" y1="236.30" x2="435.95" y2="236.30" stroke="#1d4f70" stroke-width="0.8"/>
<text x="0" y="0" transform="translate(431.50 194.18) scale(1 1.0)" font-size="7.2" text-anchor="middle" fill="#222" stroke="#222" stroke-width="0.2">ns</text>
<line x1="428.30" y1="197.70" x2="434.70" y2="197.70" stroke="#222" stroke-width="1.3"/>
<line x1="449.70" y1="267.50" x2="449.70" y2="270.30" stroke="#1a1a1a" stroke-width="0.9"/>
<text x="0" y="0" transform="translate(449.70 280.60) scale(1 1.0)" font-size="7.4" text-anchor="middle" stroke="#1a1a1a" stroke-width="0.2">72h</text>
<rect x="444.20" y="211.44" width="4.90" height="56.06" fill="#c8c8c8"/>
<rect x="450.10" y="219.72" width="5.50" height="47.77" fill="#29a0dc"/>
<line x1="446.65" y1="208.03" x2="446.65" y2="214.85" stroke="#444" stroke-width="0.8"/>
<line x1="445.35" y1="208.03" x2="447.95" y2="208.03" stroke="#444" stroke-width="0.8"/>
<line x1="452.85" y1="214.85" x2="452.85" y2="224.60" stroke="#1d4f70" stroke-width="0.8"/>
<line x1="451.55" y1="214.85" x2="454.15" y2="214.85" stroke="#1d4f70" stroke-width="0.8"/>
<circle cx="449.70" cy="192.10" r="0.95" fill="#1e1e1e"/>
<line x1="446.50" y1="197.70" x2="452.90" y2="197.70" stroke="#222" stroke-width="1.3"/>
<text x="0" y="0" font-size="8.4" text-anchor="middle" textLength="62" lengthAdjust="spacingAndGlyphs" stroke="#1a1a1a" stroke-width="0.38" transform="translate(28.60 226.60) rotate(-90) scale(1 1.0)">Absorbance (OD<tspan font-size="5.5" dy="1.6">450nm</tspan><tspan dy="-1.6">)</tspan></text>
<rect x="464.20" y="187.00" width="5.90" height="5.80" fill="#c8c8c8"/>
<text x="0" y="0" transform="translate(472.80 192.58) scale(1 1.0)" font-size="7.2" textLength="29.5" lengthAdjust="spacingAndGlyphs" stroke="#1a1a1a" stroke-width="0.2">Scramble</text>
<rect x="464.20" y="197.50" width="5.90" height="5.90" fill="#29a0dc"/>
<text x="0" y="0" transform="translate(472.80 202.98) scale(1 1.0)" font-size="7.2" textLength="33.5" lengthAdjust="spacingAndGlyphs" stroke="#1a1a1a" stroke-width="0.2">MALT1-KO</text>
<text x="0" y="0" transform="translate(6.40 305.60) scale(1 1.0)" font-size="10.6" fill="#000" font-weight="bold" stroke="#000" stroke-width="0.2">D</text>
<text x="0" y="0" transform="translate(125.40 317.30) scale(1 1.05)" font-size="9" text-anchor="middle" textLength="14.6" lengthAdjust="spacingAndGlyphs" stroke="#1a1a1a" stroke-width="0.18">IM9</text>
<line x1="50.50" y1="429.00" x2="50.50" y2="326.40" stroke="#1a1a1a" stroke-width="1.45"/>
<line x1="50.00" y1="428.50" x2="199.00" y2="428.50" stroke="#1a1a1a" stroke-width="1.45"/>
<line x1="47.50" y1="428.50" x2="50.50" y2="428.50" stroke="#1a1a1a" stroke-width="0.9"/>
<text x="0" y="0" transform="translate(43.70 431.01) scale(1 1.0)" font-size="7.3" text-anchor="end" stroke="#1a1a1a" stroke-width="0.2">0</text>
<line x1="47.50" y1="379.40" x2="50.50" y2="379.40" stroke="#1a1a1a" stroke-width="0.9"/>
<text x="0" y="0" transform="translate(43.70 381.91) scale(1 1.0)" font-size="7.3" text-anchor="end" stroke="#1a1a1a" stroke-width="0.2">50</text>
<line x1="47.50" y1="330.30" x2="50.50" y2="330.30" stroke="#1a1a1a" stroke-width="0.9"/>
<text x="0" y="0" transform="translate(43.70 332.81) scale(1 1.0)" font-size="7.3" text-anchor="end" stroke="#1a1a1a" stroke-width="0.2">100</text>
<line x1="50.50" y1="428.50" x2="50.50" y2="431.00" stroke="#1a1a1a" stroke-width="0.9"/>
<text x="0" y="0" transform="translate(50.50 441.01) scale(1 1.0)" font-size="7.3" text-anchor="middle" stroke="#1a1a1a" stroke-width="0.2">0</text>
<line x1="99.50" y1="428.50" x2="99.50" y2="431.00" stroke="#1a1a1a" stroke-width="0.9"/>
<text x="0" y="0" transform="translate(99.50 441.01) scale(1 1.0)" font-size="7.3" text-anchor="middle" stroke="#1a1a1a" stroke-width="0.2">20</text>
<line x1="148.50" y1="428.50" x2="148.50" y2="431.00" stroke="#1a1a1a" stroke-width="0.9"/>
<text x="0" y="0" transform="translate(148.50 441.01) scale(1 1.0)" font-size="7.3" text-anchor="middle" stroke="#1a1a1a" stroke-width="0.2">40</text>
<line x1="197.50" y1="428.50" x2="197.50" y2="431.00" stroke="#1a1a1a" stroke-width="0.9"/>
<text x="0" y="0" transform="translate(197.50 441.01) scale(1 1.0)" font-size="7.3" text-anchor="middle" stroke="#1a1a1a" stroke-width="0.2">60</text>
<text x="0" y="0" transform="translate(71.30 453.60) scale(1 1.0)" font-size="9.1" textLength="109.5" lengthAdjust="spacingAndGlyphs" stroke="#1a1a1a" stroke-width="0.34">Days from the first day of cell injected</text>
<text x="0" y="0" font-size="8.3" text-anchor="middle" textLength="60" lengthAdjust="spacingAndGlyphs" stroke="#1a1a1a" stroke-width="0.1" transform="translate(25.40 377.90) rotate(-90) scale(1 1.0)">Probability of survival</text>
<path d="M111.60 330.30 L120.70 330.30 L120.70 346.70 L123.00 346.70 L123.00 363.00 L125.40 363.00 L125.40 379.40 L158.00 379.40 L158.00 395.80 L170.60 395.80 L170.60 412.10 L175.30 412.10 L175.30 428.50" stroke="#3d9fd6" stroke-width="1.1" fill="none"/>
<path d="M50.50 330.30 L112.20 330.30 L112.20 346.70 L113.20 346.70 L113.20 379.40 L121.70 379.40 L121.70 395.80 L125.40 395.80 L125.40 412.10 L133.50 412.10 L133.50 428.50" stroke="#a8a8a8" stroke-width="0.7" fill="none"/>
<line x1="111.40" y1="346.70" x2="113.00" y2="346.70" stroke="#666" stroke-width="0.9"/>
<line x1="112.40" y1="379.40" x2="114.00" y2="379.40" stroke="#666" stroke-width="0.9"/>
<line x1="120.90" y1="395.80" x2="122.50" y2="395.80" stroke="#666" stroke-width="0.9"/>
<line x1="124.60" y1="412.10" x2="126.20" y2="412.10" stroke="#666" stroke-width="0.9"/>
<line x1="119.80" y1="346.70" x2="121.60" y2="346.70" stroke="#1d5f80" stroke-width="1.0"/>
<line x1="122.10" y1="363.00" x2="123.90" y2="363.00" stroke="#1d5f80" stroke-width="1.0"/>
<line x1="157.10" y1="395.80" x2="158.90" y2="395.80" stroke="#1d5f80" stroke-width="1.0"/>
<line x1="169.70" y1="412.10" x2="171.50" y2="412.10" stroke="#1d5f80" stroke-width="1.0"/>
<line x1="147.50" y1="338.00" x2="157.30" y2="338.00" stroke="#c4c4c4" stroke-width="0.7"/>
<line x1="151.60" y1="338.00" x2="152.80" y2="338.00" stroke="#777" stroke-width="0.9"/>
<text x="0" y="0" transform="translate(160.30 340.72) scale(1 1.1)" font-size="7.2" fill="#333" textLength="38" lengthAdjust="spacingAndGlyphs" stroke="#333" stroke-width="0.2">SCR (n = 6)</text>
<line x1="147.50" y1="347.90" x2="157.30" y2="347.90" stroke="#70bde4" stroke-width="1.0"/>
<line x1="151.60" y1="347.90" x2="152.80" y2="347.90" stroke="#2a7fb0" stroke-width="1.0"/>
<text x="0" y="0" transform="translate(160.30 350.62) scale(1 1.1)" font-size="7.2" fill="#333" textLength="56" lengthAdjust="spacingAndGlyphs" stroke="#333" stroke-width="0.2">MALT1-KO (n = 6)</text>
<text x="0" y="0" transform="translate(217.40 329.12) scale(1 1.1)" font-size="7.2" fill="#333" textLength="50" lengthAdjust="spacingAndGlyphs" stroke="#333" stroke-width="0.2">Median survival</text>
<text x="0" y="0" transform="translate(227.10 340.62) scale(1 1.1)" font-size="7.2" fill="#333" textLength="31" lengthAdjust="spacingAndGlyphs" stroke="#333" stroke-width="0.2">27.5 days</text>
<text x="0" y="0" transform="translate(227.10 350.92) scale(1 1.1)" font-size="7.2" fill="#333" textLength="31" lengthAdjust="spacingAndGlyphs" stroke="#333" stroke-width="0.2">37.5 days</text>
<text x="0" y="0" transform="translate(57.60 419.98) scale(1 1.0)" font-size="7.8" stroke="#1a1a1a" stroke-width="0.2"><tspan font-style="italic">P</tspan> = .044</text>
<text x="0" y="0" transform="translate(281.90 317.90) scale(1 1.0)" font-size="10.6" fill="#000" font-weight="bold" stroke="#000" stroke-width="0.2">E</text>
<text x="0" y="0" transform="translate(377.50 317.70) scale(1 1.05)" font-size="8.8" text-anchor="middle" textLength="25.4" lengthAdjust="spacingAndGlyphs" stroke="#1a1a1a" stroke-width="0.18">MALT1</text>
<line x1="330.50" y1="428.80" x2="330.50" y2="326.55" stroke="#1a1a1a" stroke-width="1.45"/>
<line x1="330.00" y1="428.30" x2="425.00" y2="428.30" stroke="#1a1a1a" stroke-width="1.45"/>
<line x1="327.50" y1="428.30" x2="330.50" y2="428.30" stroke="#1a1a1a" stroke-width="0.9"/>
<text x="0" y="0" transform="translate(324.50 430.81) scale(1 1.0)" font-size="7.3" text-anchor="end" stroke="#1a1a1a" stroke-width="0.2">0</text>
<line x1="327.50" y1="395.55" x2="330.50" y2="395.55" stroke="#1a1a1a" stroke-width="0.9"/>
<text x="0" y="0" transform="translate(324.50 398.06) scale(1 1.0)" font-size="7.3" text-anchor="end" stroke="#1a1a1a" stroke-width="0.2">10</text>
<line x1="327.50" y1="362.80" x2="330.50" y2="362.80" stroke="#1a1a1a" stroke-width="0.9"/>
<text x="0" y="0" transform="translate(324.50 365.31) scale(1 1.0)" font-size="7.3" text-anchor="end" stroke="#1a1a1a" stroke-width="0.2">20</text>
<line x1="327.50" y1="330.05" x2="330.50" y2="330.05" stroke="#1a1a1a" stroke-width="0.9"/>
<text x="0" y="0" transform="translate(324.50 332.56) scale(1 1.0)" font-size="7.3" text-anchor="end" stroke="#1a1a1a" stroke-width="0.2">30</text>
<line x1="351.40" y1="428.30" x2="351.40" y2="430.80" stroke="#1a1a1a" stroke-width="0.9"/>
<text x="0" y="0" transform="translate(351.40 440.65) scale(1 1.0)" font-size="7.4" text-anchor="middle" stroke="#1a1a1a" stroke-width="0.2">NR</text>
<line x1="404.30" y1="428.30" x2="404.30" y2="430.80" stroke="#1a1a1a" stroke-width="0.9"/>
<text x="0" y="0" transform="translate(404.30 440.65) scale(1 1.0)" font-size="7.4" text-anchor="middle" stroke="#1a1a1a" stroke-width="0.2">MM</text>
<text x="0" y="0" font-size="8.2" text-anchor="middle" textLength="73" lengthAdjust="spacingAndGlyphs" stroke="#1a1a1a" stroke-width="0.22" transform="translate(298.90 377.30) rotate(-90) scale(1 1.0)">Relative mRNA expression</text>
<text x="0" y="0" font-size="8.2" text-anchor="middle" textLength="25.5" lengthAdjust="spacingAndGlyphs" stroke="#1a1a1a" stroke-width="0.22" transform="translate(311.00 376.70) rotate(-90) scale(1 1.0)">(2<tspan font-size="5.2" dy="-2.8">−ΔΔCT</tspan><tspan dy="2.8">)</tspan></text>
<line x1="352.00" y1="329.40" x2="404.30" y2="329.40" stroke="#1a1a1a" stroke-width="0.9"/>
<circle cx="374.88" cy="325.20" r="0.95" fill="#1e1e1e"/>
<circle cx="377.92" cy="325.20" r="0.95" fill="#1e1e1e"/>
<circle cx="341.40" cy="419.10" r="1.9" fill="#c4c4c4"/>
<circle cx="343.60" cy="420.10" r="1.9" fill="#c4c4c4"/>
<circle cx="347.10" cy="419.40" r="1.9" fill="#c4c4c4"/>
<circle cx="349.50" cy="420.10" r="1.9" fill="#c4c4c4"/>
<circle cx="357.50" cy="419.40" r="1.9" fill="#c4c4c4"/>
<circle cx="359.90" cy="421.80" r="1.9" fill="#c4c4c4"/>
<circle cx="345.10" cy="423.50" r="1.9" fill="#c4c4c4"/>
<circle cx="343.10" cy="425.50" r="1.9" fill="#c4c4c4"/>
<circle cx="351.20" cy="424.50" r="1.9" fill="#c4c4c4"/>
<circle cx="353.80" cy="425.50" r="1.9" fill="#c4c4c4"/>
<circle cx="356.50" cy="425.10" r="1.9" fill="#c4c4c4"/>
<circle cx="359.20" cy="425.80" r="1.9" fill="#c4c4c4"/>
<circle cx="348.50" cy="426.50" r="1.9" fill="#c4c4c4"/>
<circle cx="352.50" cy="426.80" r="1.9" fill="#c4c4c4"/>
<circle cx="404.10" cy="341.00" r="2.0" fill="#2a9bd5"/>
<circle cx="404.10" cy="354.00" r="2.0" fill="#2a9bd5"/>
<circle cx="403.30" cy="380.50" r="2.0" fill="#2a9bd5"/>
<circle cx="406.00" cy="380.00" r="2.0" fill="#2a9bd5"/>
<circle cx="404.10" cy="389.20" r="2.0" fill="#2a9bd5"/>
<circle cx="404.30" cy="397.60" r="2.0" fill="#2a9bd5"/>
<circle cx="402.30" cy="403.50" r="2.0" fill="#2a9bd5"/>
<circle cx="404.40" cy="404.20" r="2.0" fill="#2a9bd5"/>
<circle cx="406.30" cy="405.00" r="2.0" fill="#2a9bd5"/>
<circle cx="407.80" cy="406.50" r="2.0" fill="#2a9bd5"/>
<circle cx="400.80" cy="409.60" r="2.0" fill="#2a9bd5"/>
<circle cx="405.40" cy="410.40" r="2.0" fill="#2a9bd5"/>
<circle cx="408.10" cy="411.50" r="2.0" fill="#2a9bd5"/>
<circle cx="410.40" cy="413.50" r="2.0" fill="#2a9bd5"/>
<circle cx="403.10" cy="414.60" r="2.0" fill="#2a9bd5"/>
<circle cx="398.10" cy="417.70" r="2.0" fill="#2a9bd5"/>
<circle cx="395.80" cy="421.50" r="2.0" fill="#2a9bd5"/>
<circle cx="398.50" cy="421.20" r="2.0" fill="#2a9bd5"/>
<circle cx="400.40" cy="423.00" r="2.0" fill="#2a9bd5"/>
<circle cx="397.80" cy="424.40" r="2.0" fill="#2a9bd5"/>
<circle cx="402.70" cy="425.00" r="2.0" fill="#2a9bd5"/>
<circle cx="405.00" cy="424.20" r="2.0" fill="#2a9bd5"/>
<circle cx="409.60" cy="420.40" r="2.0" fill="#2a9bd5"/>
<circle cx="412.50" cy="421.00" r="2.0" fill="#2a9bd5"/>
<circle cx="408.20" cy="424.80" r="2.0" fill="#2a9bd5"/>
<line x1="393.80" y1="414.20" x2="414.60" y2="414.20" stroke="#1b6fa8" stroke-width="0.8"/>
<circle cx="430.50" cy="330.50" r="1.8" fill="#c4c4c4"/>
<text x="0" y="0" transform="translate(435.90 332.98) scale(1 1.0)" font-size="7.2" textLength="36.5" lengthAdjust="spacingAndGlyphs" stroke="#1a1a1a" stroke-width="0.2">NR (n = 14)</text>
<circle cx="430.50" cy="341.20" r="1.8" fill="#2a9bd5"/>
<text x="0" y="0" transform="translate(435.90 343.68) scale(1 1.0)" font-size="7.2" textLength="38.5" lengthAdjust="spacingAndGlyphs" stroke="#1a1a1a" stroke-width="0.2">MM (n = 25)</text>
<text x="0" y="0" transform="translate(6.10 478.00) scale(1 1.0)" font-size="10.6" fill="#000" font-weight="bold" stroke="#000" stroke-width="0.2">F</text>
<rect x="94.90" y="497.10" width="159.70" height="106.50" fill="none" stroke="#1a1a1a" stroke-width="1.45"/>
<line x1="91.90" y1="513.40" x2="94.90" y2="513.40" stroke="#1a1a1a" stroke-width="0.9"/>
<text x="0" y="0" transform="translate(88.60 516.01) scale(1 1.0)" font-size="7.6" text-anchor="end" textLength="67.6" lengthAdjust="spacingAndGlyphs" stroke="#1a1a1a" stroke-width="0.2">Plasma Cell (n = 30)</text>
<line x1="91.90" y1="538.20" x2="94.90" y2="538.20" stroke="#1a1a1a" stroke-width="0.9"/>
<text x="0" y="0" transform="translate(88.60 540.81) scale(1 1.0)" font-size="7.6" text-anchor="end" textLength="72.2" lengthAdjust="spacingAndGlyphs" stroke="#1a1a1a" stroke-width="0.2">Lymphocyte (n = 126)</text>
<line x1="91.90" y1="562.70" x2="94.90" y2="562.70" stroke="#1a1a1a" stroke-width="0.9"/>
<text x="0" y="0" transform="translate(88.60 565.31) scale(1 1.0)" font-size="7.6" text-anchor="end" textLength="48.6" lengthAdjust="spacingAndGlyphs" stroke="#1a1a1a" stroke-width="0.2">Blood (n = 96)</text>
<line x1="91.90" y1="587.50" x2="94.90" y2="587.50" stroke="#1a1a1a" stroke-width="0.9"/>
<text x="0" y="0" transform="translate(88.60 590.11) scale(1 1.0)" font-size="7.6" text-anchor="end" textLength="75.0" lengthAdjust="spacingAndGlyphs" stroke="#1a1a1a" stroke-width="0.2">Solid tumors (n = 491)</text>
<line x1="94.90" y1="603.60" x2="94.90" y2="606.60" stroke="#1a1a1a" stroke-width="1.0"/>
<text x="0" y="0" transform="translate(94.90 616.45) scale(1 1.0)" font-size="7.4" text-anchor="middle" stroke="#1a1a1a" stroke-width="0.2">0</text>
<line x1="126.84" y1="603.60" x2="126.84" y2="606.60" stroke="#1a1a1a" stroke-width="1.0"/>
<text x="0" y="0" transform="translate(126.84 616.45) scale(1 1.0)" font-size="7.4" text-anchor="middle" stroke="#1a1a1a" stroke-width="0.2">2</text>
<line x1="158.78" y1="603.60" x2="158.78" y2="606.60" stroke="#1a1a1a" stroke-width="1.0"/>
<text x="0" y="0" transform="translate(158.78 616.45) scale(1 1.0)" font-size="7.4" text-anchor="middle" stroke="#1a1a1a" stroke-width="0.2">4</text>
<line x1="190.72" y1="603.60" x2="190.72" y2="606.60" stroke="#1a1a1a" stroke-width="1.0"/>
<text x="0" y="0" transform="translate(190.72 616.45) scale(1 1.0)" font-size="7.4" text-anchor="middle" stroke="#1a1a1a" stroke-width="0.2">6</text>
<line x1="222.66" y1="603.60" x2="222.66" y2="606.60" stroke="#1a1a1a" stroke-width="1.0"/>
<text x="0" y="0" transform="translate(222.66 616.45) scale(1 1.0)" font-size="7.4" text-anchor="middle" stroke="#1a1a1a" stroke-width="0.2">8</text>
<line x1="254.60" y1="603.60" x2="254.60" y2="606.60" stroke="#1a1a1a" stroke-width="1.0"/>
<text x="0" y="0" transform="translate(254.60 616.45) scale(1 1.0)" font-size="7.4" text-anchor="middle" stroke="#1a1a1a" stroke-width="0.2">10</text>
<text x="0" y="0" transform="translate(174.50 628.90) scale(1 1.0)" font-size="8.4" text-anchor="middle" textLength="56.5" lengthAdjust="spacingAndGlyphs" stroke="#1a1a1a" stroke-width="0.3">Expression of MALT1</text>
<line x1="201.30" y1="513.50" x2="201.30" y2="538.10" stroke="#333" stroke-width="0.8"/>
<text x="0" y="0" font-size="6.8" text-anchor="middle" stroke="#1a1a1a" stroke-width="0.2" transform="translate(204.00 525.50) rotate(90) scale(1 1.0)">ns</text>
<line x1="219.30" y1="513.50" x2="219.30" y2="562.80" stroke="#333" stroke-width="0.8"/>
<circle cx="223.20" cy="533.42" r="0.95" fill="#1e1e1e"/>
<circle cx="223.20" cy="536.48" r="0.95" fill="#1e1e1e"/>
<circle cx="223.20" cy="539.52" r="0.95" fill="#1e1e1e"/>
<circle cx="223.20" cy="542.58" r="0.95" fill="#1e1e1e"/>
<line x1="238.40" y1="513.50" x2="238.40" y2="586.80" stroke="#333" stroke-width="0.8"/>
<circle cx="243.00" cy="545.92" r="0.95" fill="#1e1e1e"/>
<circle cx="243.00" cy="548.98" r="0.95" fill="#1e1e1e"/>
<circle cx="243.00" cy="552.02" r="0.95" fill="#1e1e1e"/>
<circle cx="243.00" cy="555.08" r="0.95" fill="#1e1e1e"/>
<line x1="165.65" y1="506.00" x2="165.65" y2="521.50" stroke="#8a2a3c" stroke-width="1.0"/>
<circle cx="131.93" cy="513.60" r="1.1" fill="#262626"/>
<circle cx="137.86" cy="513.60" r="1.1" fill="#262626"/>
<circle cx="140.06" cy="513.60" r="1.1" fill="#262626"/>
<circle cx="143.83" cy="513.60" r="1.1" fill="#262626"/>
<circle cx="146.01" cy="513.60" r="1.1" fill="#262626"/>
<circle cx="147.95" cy="513.60" r="1.1" fill="#262626"/>
<circle cx="149.82" cy="514.70" r="1.1" fill="#262626"/>
<circle cx="150.00" cy="516.90" r="1.1" fill="#262626"/>
<circle cx="151.81" cy="514.70" r="1.1" fill="#262626"/>
<circle cx="151.97" cy="516.90" r="1.1" fill="#262626"/>
<circle cx="153.83" cy="514.70" r="1.1" fill="#262626"/>
<circle cx="153.84" cy="516.90" r="1.1" fill="#262626"/>
<circle cx="155.97" cy="514.70" r="1.1" fill="#262626"/>
<circle cx="156.13" cy="516.90" r="1.1" fill="#262626"/>
<circle cx="157.85" cy="514.70" r="1.1" fill="#262626"/>
<circle cx="157.89" cy="516.90" r="1.1" fill="#262626"/>
<circle cx="160.05" cy="513.60" r="1.1" fill="#262626"/>
<circle cx="162.18" cy="513.60" r="1.1" fill="#262626"/>
<circle cx="166.03" cy="513.60" r="1.1" fill="#262626"/>
<circle cx="165.96" cy="515.80" r="1.1" fill="#262626"/>
<circle cx="166.19" cy="511.40" r="1.1" fill="#262626"/>
<circle cx="165.82" cy="518.00" r="1.1" fill="#262626"/>
<circle cx="166.14" cy="509.20" r="1.1" fill="#262626"/>
<circle cx="165.92" cy="520.20" r="1.1" fill="#262626"/>
<circle cx="165.86" cy="507.00" r="1.1" fill="#262626"/>
<circle cx="167.85" cy="513.60" r="1.1" fill="#262626"/>
<circle cx="169.92" cy="513.60" r="1.1" fill="#262626"/>
<circle cx="172.13" cy="514.70" r="1.1" fill="#262626"/>
<circle cx="171.87" cy="516.90" r="1.1" fill="#262626"/>
<circle cx="174.03" cy="513.60" r="1.1" fill="#262626"/>
<circle cx="182.06" cy="513.60" r="1.1" fill="#262626"/>
<circle cx="185.95" cy="513.60" r="1.1" fill="#262626"/>
<circle cx="192.02" cy="513.60" r="1.1" fill="#262626"/>
<circle cx="155.72" cy="539.00" r="0.62" fill="none" stroke="#262626" stroke-width="0.5"/>
<circle cx="156.03" cy="541.00" r="0.62" fill="none" stroke="#262626" stroke-width="0.5"/>
<circle cx="155.62" cy="537.00" r="0.62" fill="none" stroke="#262626" stroke-width="0.5"/>
<circle cx="156.02" cy="543.00" r="0.62" fill="none" stroke="#262626" stroke-width="0.5"/>
<circle cx="156.38" cy="535.00" r="0.62" fill="none" stroke="#262626" stroke-width="0.5"/>
<circle cx="156.29" cy="545.00" r="0.62" fill="none" stroke="#262626" stroke-width="0.5"/>
<circle cx="156.16" cy="533.00" r="0.62" fill="none" stroke="#262626" stroke-width="0.5"/>
<circle cx="155.89" cy="534.66" r="0.62" fill="none" stroke="#262626" stroke-width="0.5"/>
<circle cx="155.73" cy="531.00" r="0.62" fill="none" stroke="#262626" stroke-width="0.5"/>
<circle cx="156.03" cy="541.81" r="0.62" fill="none" stroke="#262626" stroke-width="0.5"/>
<circle cx="155.86" cy="541.91" r="0.62" fill="none" stroke="#262626" stroke-width="0.5"/>
<circle cx="156.25" cy="534.12" r="0.62" fill="none" stroke="#262626" stroke-width="0.5"/>
<circle cx="156.28" cy="544.79" r="0.62" fill="none" stroke="#262626" stroke-width="0.5"/>
<circle cx="156.25" cy="542.29" r="0.62" fill="none" stroke="#262626" stroke-width="0.5"/>
<circle cx="155.78" cy="541.36" r="0.62" fill="none" stroke="#262626" stroke-width="0.5"/>
<circle cx="155.88" cy="538.25" r="0.62" fill="none" stroke="#262626" stroke-width="0.5"/>
<circle cx="153.62" cy="539.00" r="0.62" fill="none" stroke="#262626" stroke-width="0.5"/>
<circle cx="153.62" cy="541.00" r="0.62" fill="none" stroke="#262626" stroke-width="0.5"/>
<circle cx="153.82" cy="537.00" r="0.62" fill="none" stroke="#262626" stroke-width="0.5"/>
<circle cx="153.81" cy="543.00" r="0.62" fill="none" stroke="#262626" stroke-width="0.5"/>
<circle cx="154.15" cy="535.00" r="0.62" fill="none" stroke="#262626" stroke-width="0.5"/>
<circle cx="154.37" cy="545.00" r="0.62" fill="none" stroke="#262626" stroke-width="0.5"/>
<circle cx="153.96" cy="533.00" r="0.62" fill="none" stroke="#262626" stroke-width="0.5"/>
<circle cx="154.39" cy="544.12" r="0.62" fill="none" stroke="#262626" stroke-width="0.5"/>
<circle cx="154.36" cy="531.00" r="0.62" fill="none" stroke="#262626" stroke-width="0.5"/>
<circle cx="153.78" cy="536.10" r="0.62" fill="none" stroke="#262626" stroke-width="0.5"/>
<circle cx="153.76" cy="534.18" r="0.62" fill="none" stroke="#262626" stroke-width="0.5"/>
<circle cx="154.10" cy="533.86" r="0.62" fill="none" stroke="#262626" stroke-width="0.5"/>
<circle cx="154.27" cy="543.60" r="0.62" fill="none" stroke="#262626" stroke-width="0.5"/>
<circle cx="154.12" cy="537.71" r="0.62" fill="none" stroke="#262626" stroke-width="0.5"/>
<circle cx="153.67" cy="542.20" r="0.62" fill="none" stroke="#262626" stroke-width="0.5"/>
<circle cx="154.33" cy="540.25" r="0.62" fill="none" stroke="#262626" stroke-width="0.5"/>
<circle cx="162.23" cy="539.00" r="0.62" fill="none" stroke="#262626" stroke-width="0.5"/>
<circle cx="162.20" cy="541.00" r="0.62" fill="none" stroke="#262626" stroke-width="0.5"/>
<circle cx="161.98" cy="537.00" r="0.62" fill="none" stroke="#262626" stroke-width="0.5"/>
<circle cx="161.74" cy="543.00" r="0.62" fill="none" stroke="#262626" stroke-width="0.5"/>
<circle cx="150.23" cy="539.00" r="0.62" fill="none" stroke="#262626" stroke-width="0.5"/>
<circle cx="149.87" cy="541.00" r="0.62" fill="none" stroke="#262626" stroke-width="0.5"/>
<circle cx="150.24" cy="537.00" r="0.62" fill="none" stroke="#262626" stroke-width="0.5"/>
<circle cx="150.38" cy="543.00" r="0.62" fill="none" stroke="#262626" stroke-width="0.5"/>
<circle cx="149.92" cy="535.00" r="0.62" fill="none" stroke="#262626" stroke-width="0.5"/>
<circle cx="149.92" cy="545.00" r="0.62" fill="none" stroke="#262626" stroke-width="0.5"/>
<circle cx="150.36" cy="533.00" r="0.62" fill="none" stroke="#262626" stroke-width="0.5"/>
<circle cx="149.74" cy="541.15" r="0.62" fill="none" stroke="#262626" stroke-width="0.5"/>
<circle cx="149.70" cy="531.00" r="0.62" fill="none" stroke="#262626" stroke-width="0.5"/>
<circle cx="150.32" cy="533.12" r="0.62" fill="none" stroke="#262626" stroke-width="0.5"/>
<circle cx="149.72" cy="542.29" r="0.62" fill="none" stroke="#262626" stroke-width="0.5"/>
<circle cx="150.38" cy="542.57" r="0.62" fill="none" stroke="#262626" stroke-width="0.5"/>
<circle cx="152.13" cy="539.00" r="0.62" fill="none" stroke="#262626" stroke-width="0.5"/>
<circle cx="151.88" cy="541.00" r="0.62" fill="none" stroke="#262626" stroke-width="0.5"/>
<circle cx="152.04" cy="537.00" r="0.62" fill="none" stroke="#262626" stroke-width="0.5"/>
<circle cx="151.70" cy="543.00" r="0.62" fill="none" stroke="#262626" stroke-width="0.5"/>
<circle cx="151.61" cy="535.00" r="0.62" fill="none" stroke="#262626" stroke-width="0.5"/>
<circle cx="152.38" cy="545.00" r="0.62" fill="none" stroke="#262626" stroke-width="0.5"/>
<circle cx="152.12" cy="533.00" r="0.62" fill="none" stroke="#262626" stroke-width="0.5"/>
<circle cx="152.35" cy="538.37" r="0.62" fill="none" stroke="#262626" stroke-width="0.5"/>
<circle cx="151.95" cy="531.00" r="0.62" fill="none" stroke="#262626" stroke-width="0.5"/>
<circle cx="152.26" cy="543.20" r="0.62" fill="none" stroke="#262626" stroke-width="0.5"/>
<circle cx="151.80" cy="533.95" r="0.62" fill="none" stroke="#262626" stroke-width="0.5"/>
<circle cx="151.79" cy="535.10" r="0.62" fill="none" stroke="#262626" stroke-width="0.5"/>
<circle cx="151.81" cy="539.21" r="0.62" fill="none" stroke="#262626" stroke-width="0.5"/>
<circle cx="151.70" cy="536.87" r="0.62" fill="none" stroke="#262626" stroke-width="0.5"/>
<circle cx="151.88" cy="543.74" r="0.62" fill="none" stroke="#262626" stroke-width="0.5"/>
<circle cx="152.07" cy="537.41" r="0.62" fill="none" stroke="#262626" stroke-width="0.5"/>
<circle cx="148.32" cy="538.00" r="0.62" fill="none" stroke="#262626" stroke-width="0.5"/>
<circle cx="147.94" cy="540.00" r="0.62" fill="none" stroke="#262626" stroke-width="0.5"/>
<circle cx="148.33" cy="536.00" r="0.62" fill="none" stroke="#262626" stroke-width="0.5"/>
<circle cx="148.00" cy="542.00" r="0.62" fill="none" stroke="#262626" stroke-width="0.5"/>
<circle cx="148.03" cy="534.00" r="0.62" fill="none" stroke="#262626" stroke-width="0.5"/>
<circle cx="148.02" cy="544.00" r="0.62" fill="none" stroke="#262626" stroke-width="0.5"/>
<circle cx="147.61" cy="532.00" r="0.62" fill="none" stroke="#262626" stroke-width="0.5"/>
<circle cx="147.75" cy="537.16" r="0.62" fill="none" stroke="#262626" stroke-width="0.5"/>
<circle cx="148.24" cy="531.06" r="0.62" fill="none" stroke="#262626" stroke-width="0.5"/>
<circle cx="159.74" cy="539.00" r="0.62" fill="none" stroke="#262626" stroke-width="0.5"/>
<circle cx="159.98" cy="541.00" r="0.62" fill="none" stroke="#262626" stroke-width="0.5"/>
<circle cx="160.18" cy="537.00" r="0.62" fill="none" stroke="#262626" stroke-width="0.5"/>
<circle cx="160.05" cy="543.00" r="0.62" fill="none" stroke="#262626" stroke-width="0.5"/>
<circle cx="157.86" cy="539.00" r="0.62" fill="none" stroke="#262626" stroke-width="0.5"/>
<circle cx="158.01" cy="541.00" r="0.62" fill="none" stroke="#262626" stroke-width="0.5"/>
<circle cx="158.04" cy="537.00" r="0.62" fill="none" stroke="#262626" stroke-width="0.5"/>
<circle cx="158.23" cy="543.00" r="0.62" fill="none" stroke="#262626" stroke-width="0.5"/>
<circle cx="157.68" cy="535.00" r="0.62" fill="none" stroke="#262626" stroke-width="0.5"/>
<circle cx="158.05" cy="545.00" r="0.62" fill="none" stroke="#262626" stroke-width="0.5"/>
<circle cx="145.80" cy="539.00" r="0.62" fill="none" stroke="#262626" stroke-width="0.5"/>
<circle cx="145.82" cy="541.00" r="0.62" fill="none" stroke="#262626" stroke-width="0.5"/>
<circle cx="144.22" cy="538.00" r="0.62" fill="none" stroke="#262626" stroke-width="0.5"/>
<circle cx="144.01" cy="540.00" r="0.62" fill="none" stroke="#262626" stroke-width="0.5"/>
<circle cx="144.05" cy="536.00" r="0.62" fill="none" stroke="#262626" stroke-width="0.5"/>
<circle cx="144.21" cy="542.00" r="0.62" fill="none" stroke="#262626" stroke-width="0.5"/>
<circle cx="144.33" cy="534.00" r="0.62" fill="none" stroke="#262626" stroke-width="0.5"/>
<circle cx="163.95" cy="538.00" r="0.62" fill="none" stroke="#262626" stroke-width="0.5"/>
<circle cx="164.09" cy="540.00" r="0.62" fill="none" stroke="#262626" stroke-width="0.5"/>
<circle cx="164.00" cy="536.00" r="0.62" fill="none" stroke="#262626" stroke-width="0.5"/>
<circle cx="142.01" cy="539.00" r="0.62" fill="none" stroke="#262626" stroke-width="0.5"/>
<circle cx="142.15" cy="541.00" r="0.62" fill="none" stroke="#262626" stroke-width="0.5"/>
<circle cx="115.96" cy="538.00" r="0.62" fill="none" stroke="#262626" stroke-width="0.5"/>
<circle cx="126.03" cy="538.00" r="0.62" fill="none" stroke="#262626" stroke-width="0.5"/>
<circle cx="127.98" cy="538.00" r="0.62" fill="none" stroke="#262626" stroke-width="0.5"/>
<circle cx="134.35" cy="538.00" r="0.62" fill="none" stroke="#262626" stroke-width="0.5"/>
<circle cx="136.16" cy="538.00" r="0.62" fill="none" stroke="#262626" stroke-width="0.5"/>
<circle cx="138.30" cy="538.00" r="0.62" fill="none" stroke="#262626" stroke-width="0.5"/>
<circle cx="170.35" cy="538.00" r="0.62" fill="none" stroke="#262626" stroke-width="0.5"/>
<circle cx="173.81" cy="538.00" r="0.62" fill="none" stroke="#262626" stroke-width="0.5"/>
<circle cx="174.05" cy="540.00" r="0.62" fill="none" stroke="#262626" stroke-width="0.5"/>
<circle cx="174.35" cy="536.00" r="0.62" fill="none" stroke="#262626" stroke-width="0.5"/>
<circle cx="174.27" cy="542.00" r="0.62" fill="none" stroke="#262626" stroke-width="0.5"/>
<circle cx="173.71" cy="534.00" r="0.62" fill="none" stroke="#262626" stroke-width="0.5"/>
<circle cx="165.70" cy="538.00" r="0.62" fill="none" stroke="#262626" stroke-width="0.5"/>
<circle cx="165.95" cy="540.00" r="0.62" fill="none" stroke="#262626" stroke-width="0.5"/>
<circle cx="165.66" cy="536.00" r="0.62" fill="none" stroke="#262626" stroke-width="0.5"/>
<circle cx="167.79" cy="539.00" r="0.62" fill="none" stroke="#262626" stroke-width="0.5"/>
<circle cx="167.66" cy="541.00" r="0.62" fill="none" stroke="#262626" stroke-width="0.5"/>
<circle cx="168.14" cy="537.00" r="0.62" fill="none" stroke="#262626" stroke-width="0.5"/>
<circle cx="168.23" cy="543.00" r="0.62" fill="none" stroke="#262626" stroke-width="0.5"/>
<circle cx="168.32" cy="535.00" r="0.62" fill="none" stroke="#262626" stroke-width="0.5"/>
<circle cx="167.72" cy="545.00" r="0.62" fill="none" stroke="#262626" stroke-width="0.5"/>
<circle cx="186.17" cy="539.00" r="0.62" fill="none" stroke="#262626" stroke-width="0.5"/>
<circle cx="186.13" cy="541.00" r="0.62" fill="none" stroke="#262626" stroke-width="0.5"/>
<circle cx="179.71" cy="538.00" r="0.62" fill="none" stroke="#262626" stroke-width="0.5"/>
<circle cx="172.31" cy="538.00" r="0.62" fill="none" stroke="#262626" stroke-width="0.5"/>
<circle cx="188.37" cy="538.00" r="0.62" fill="none" stroke="#262626" stroke-width="0.5"/>
<circle cx="175.78" cy="539.00" r="0.62" fill="none" stroke="#262626" stroke-width="0.5"/>
<circle cx="176.36" cy="541.00" r="0.62" fill="none" stroke="#262626" stroke-width="0.5"/>
<circle cx="139.92" cy="538.00" r="0.62" fill="none" stroke="#262626" stroke-width="0.5"/>
<circle cx="139.99" cy="540.00" r="0.62" fill="none" stroke="#262626" stroke-width="0.5"/>
<circle cx="140.39" cy="536.00" r="0.62" fill="none" stroke="#262626" stroke-width="0.5"/>
<line x1="153.35" y1="529.50" x2="153.35" y2="545.70" stroke="#c4506a" stroke-width="0.7"/>
<line x1="155.27" y1="529.50" x2="155.27" y2="545.70" stroke="#c4506a" stroke-width="0.7"/>
<circle cx="150.27" cy="562.70" r="0.62" fill="none" stroke="#262626" stroke-width="0.5"/>
<circle cx="150.17" cy="564.70" r="0.62" fill="none" stroke="#262626" stroke-width="0.5"/>
<circle cx="150.11" cy="560.70" r="0.62" fill="none" stroke="#262626" stroke-width="0.5"/>
<circle cx="149.92" cy="566.70" r="0.62" fill="none" stroke="#262626" stroke-width="0.5"/>
<circle cx="149.88" cy="558.70" r="0.62" fill="none" stroke="#262626" stroke-width="0.5"/>
<circle cx="149.64" cy="568.70" r="0.62" fill="none" stroke="#262626" stroke-width="0.5"/>
<circle cx="149.70" cy="556.70" r="0.62" fill="none" stroke="#262626" stroke-width="0.5"/>
<circle cx="150.19" cy="557.55" r="0.62" fill="none" stroke="#262626" stroke-width="0.5"/>
<circle cx="149.73" cy="559.77" r="0.62" fill="none" stroke="#262626" stroke-width="0.5"/>
<circle cx="150.27" cy="557.71" r="0.62" fill="none" stroke="#262626" stroke-width="0.5"/>
<circle cx="150.14" cy="567.15" r="0.62" fill="none" stroke="#262626" stroke-width="0.5"/>
<circle cx="145.83" cy="563.70" r="0.62" fill="none" stroke="#262626" stroke-width="0.5"/>
<circle cx="145.79" cy="565.70" r="0.62" fill="none" stroke="#262626" stroke-width="0.5"/>
<circle cx="145.83" cy="561.70" r="0.62" fill="none" stroke="#262626" stroke-width="0.5"/>
<circle cx="145.97" cy="567.70" r="0.62" fill="none" stroke="#262626" stroke-width="0.5"/>
<circle cx="145.73" cy="559.70" r="0.62" fill="none" stroke="#262626" stroke-width="0.5"/>
<circle cx="145.81" cy="562.05" r="0.62" fill="none" stroke="#262626" stroke-width="0.5"/>
<circle cx="146.37" cy="557.70" r="0.62" fill="none" stroke="#262626" stroke-width="0.5"/>
<circle cx="146.04" cy="568.37" r="0.62" fill="none" stroke="#262626" stroke-width="0.5"/>
<circle cx="146.37" cy="559.63" r="0.62" fill="none" stroke="#262626" stroke-width="0.5"/>
<circle cx="145.89" cy="560.41" r="0.62" fill="none" stroke="#262626" stroke-width="0.5"/>
<circle cx="143.60" cy="562.70" r="0.62" fill="none" stroke="#262626" stroke-width="0.5"/>
<circle cx="143.91" cy="564.70" r="0.62" fill="none" stroke="#262626" stroke-width="0.5"/>
<circle cx="143.98" cy="560.70" r="0.62" fill="none" stroke="#262626" stroke-width="0.5"/>
<circle cx="152.00" cy="563.70" r="0.62" fill="none" stroke="#262626" stroke-width="0.5"/>
<circle cx="151.76" cy="565.70" r="0.62" fill="none" stroke="#262626" stroke-width="0.5"/>
<circle cx="152.00" cy="561.70" r="0.62" fill="none" stroke="#262626" stroke-width="0.5"/>
<circle cx="151.60" cy="567.70" r="0.62" fill="none" stroke="#262626" stroke-width="0.5"/>
<circle cx="155.81" cy="563.70" r="0.62" fill="none" stroke="#262626" stroke-width="0.5"/>
<circle cx="155.67" cy="565.70" r="0.62" fill="none" stroke="#262626" stroke-width="0.5"/>
<circle cx="155.92" cy="561.70" r="0.62" fill="none" stroke="#262626" stroke-width="0.5"/>
<circle cx="155.63" cy="567.70" r="0.62" fill="none" stroke="#262626" stroke-width="0.5"/>
<circle cx="153.62" cy="563.70" r="0.62" fill="none" stroke="#262626" stroke-width="0.5"/>
<circle cx="153.84" cy="565.70" r="0.62" fill="none" stroke="#262626" stroke-width="0.5"/>
<circle cx="153.79" cy="561.70" r="0.62" fill="none" stroke="#262626" stroke-width="0.5"/>
<circle cx="154.07" cy="567.70" r="0.62" fill="none" stroke="#262626" stroke-width="0.5"/>
<circle cx="148.02" cy="563.70" r="0.62" fill="none" stroke="#262626" stroke-width="0.5"/>
<circle cx="148.20" cy="565.70" r="0.62" fill="none" stroke="#262626" stroke-width="0.5"/>
<circle cx="148.13" cy="561.70" r="0.62" fill="none" stroke="#262626" stroke-width="0.5"/>
<circle cx="148.17" cy="567.70" r="0.62" fill="none" stroke="#262626" stroke-width="0.5"/>
<circle cx="148.30" cy="559.70" r="0.62" fill="none" stroke="#262626" stroke-width="0.5"/>
<circle cx="147.86" cy="561.37" r="0.62" fill="none" stroke="#262626" stroke-width="0.5"/>
<circle cx="148.39" cy="557.70" r="0.62" fill="none" stroke="#262626" stroke-width="0.5"/>
<circle cx="148.18" cy="558.49" r="0.62" fill="none" stroke="#262626" stroke-width="0.5"/>
<circle cx="100.11" cy="562.70" r="0.62" fill="none" stroke="#262626" stroke-width="0.5"/>
<circle cx="103.64" cy="562.70" r="0.62" fill="none" stroke="#262626" stroke-width="0.5"/>
<circle cx="110.27" cy="562.70" r="0.62" fill="none" stroke="#262626" stroke-width="0.5"/>
<circle cx="114.31" cy="562.70" r="0.62" fill="none" stroke="#262626" stroke-width="0.5"/>
<circle cx="124.10" cy="563.70" r="0.62" fill="none" stroke="#262626" stroke-width="0.5"/>
<circle cx="124.19" cy="565.70" r="0.62" fill="none" stroke="#262626" stroke-width="0.5"/>
<circle cx="124.25" cy="561.70" r="0.62" fill="none" stroke="#262626" stroke-width="0.5"/>
<circle cx="123.71" cy="567.70" r="0.62" fill="none" stroke="#262626" stroke-width="0.5"/>
<circle cx="126.02" cy="562.70" r="0.62" fill="none" stroke="#262626" stroke-width="0.5"/>
<circle cx="126.00" cy="564.70" r="0.62" fill="none" stroke="#262626" stroke-width="0.5"/>
<circle cx="126.27" cy="560.70" r="0.62" fill="none" stroke="#262626" stroke-width="0.5"/>
<circle cx="128.24" cy="562.70" r="0.62" fill="none" stroke="#262626" stroke-width="0.5"/>
<circle cx="140.26" cy="562.70" r="0.62" fill="none" stroke="#262626" stroke-width="0.5"/>
<circle cx="140.07" cy="564.70" r="0.62" fill="none" stroke="#262626" stroke-width="0.5"/>
<circle cx="140.31" cy="560.70" r="0.62" fill="none" stroke="#262626" stroke-width="0.5"/>
<circle cx="140.15" cy="566.70" r="0.62" fill="none" stroke="#262626" stroke-width="0.5"/>
<circle cx="140.15" cy="558.70" r="0.62" fill="none" stroke="#262626" stroke-width="0.5"/>
<circle cx="137.78" cy="563.70" r="0.62" fill="none" stroke="#262626" stroke-width="0.5"/>
<circle cx="137.62" cy="565.70" r="0.62" fill="none" stroke="#262626" stroke-width="0.5"/>
<circle cx="137.71" cy="561.70" r="0.62" fill="none" stroke="#262626" stroke-width="0.5"/>
<circle cx="137.89" cy="567.70" r="0.62" fill="none" stroke="#262626" stroke-width="0.5"/>
<circle cx="137.68" cy="559.70" r="0.62" fill="none" stroke="#262626" stroke-width="0.5"/>
<circle cx="138.05" cy="566.73" r="0.62" fill="none" stroke="#262626" stroke-width="0.5"/>
<circle cx="136.10" cy="563.70" r="0.62" fill="none" stroke="#262626" stroke-width="0.5"/>
<circle cx="136.10" cy="565.70" r="0.62" fill="none" stroke="#262626" stroke-width="0.5"/>
<circle cx="142.14" cy="562.70" r="0.62" fill="none" stroke="#262626" stroke-width="0.5"/>
<circle cx="157.99" cy="562.70" r="0.62" fill="none" stroke="#262626" stroke-width="0.5"/>
<circle cx="165.60" cy="563.70" r="0.62" fill="none" stroke="#262626" stroke-width="0.5"/>
<circle cx="166.24" cy="565.70" r="0.62" fill="none" stroke="#262626" stroke-width="0.5"/>
<circle cx="166.20" cy="561.70" r="0.62" fill="none" stroke="#262626" stroke-width="0.5"/>
<circle cx="166.00" cy="567.70" r="0.62" fill="none" stroke="#262626" stroke-width="0.5"/>
<circle cx="164.03" cy="563.70" r="0.62" fill="none" stroke="#262626" stroke-width="0.5"/>
<circle cx="164.13" cy="565.70" r="0.62" fill="none" stroke="#262626" stroke-width="0.5"/>
<circle cx="163.65" cy="561.70" r="0.62" fill="none" stroke="#262626" stroke-width="0.5"/>
<circle cx="164.19" cy="567.70" r="0.62" fill="none" stroke="#262626" stroke-width="0.5"/>
<circle cx="159.80" cy="563.70" r="0.62" fill="none" stroke="#262626" stroke-width="0.5"/>
<circle cx="159.66" cy="565.70" r="0.62" fill="none" stroke="#262626" stroke-width="0.5"/>
<circle cx="167.81" cy="563.70" r="0.62" fill="none" stroke="#262626" stroke-width="0.5"/>
<circle cx="168.18" cy="565.70" r="0.62" fill="none" stroke="#262626" stroke-width="0.5"/>
<circle cx="161.76" cy="562.70" r="0.62" fill="none" stroke="#262626" stroke-width="0.5"/>
<circle cx="162.19" cy="564.70" r="0.62" fill="none" stroke="#262626" stroke-width="0.5"/>
<circle cx="162.38" cy="560.70" r="0.62" fill="none" stroke="#262626" stroke-width="0.5"/>
<circle cx="174.00" cy="562.70" r="0.62" fill="none" stroke="#262626" stroke-width="0.5"/>
<circle cx="177.91" cy="562.70" r="0.62" fill="none" stroke="#262626" stroke-width="0.5"/>
<circle cx="181.98" cy="562.70" r="0.62" fill="none" stroke="#262626" stroke-width="0.5"/>
<circle cx="180.15" cy="562.70" r="0.62" fill="none" stroke="#262626" stroke-width="0.5"/>
<circle cx="170.21" cy="562.70" r="0.62" fill="none" stroke="#262626" stroke-width="0.5"/>
<circle cx="176.09" cy="562.70" r="0.62" fill="none" stroke="#262626" stroke-width="0.5"/>
<line x1="144.89" y1="554.30" x2="144.89" y2="571.20" stroke="#c4506a" stroke-width="0.7"/>
<line x1="146.80" y1="554.30" x2="146.80" y2="571.20" stroke="#c4506a" stroke-width="0.7"/>
<circle cx="145.77" cy="587.95" r="0.55" fill="none" stroke="#c4c4c4" stroke-width="0.4"/>
<circle cx="145.61" cy="589.25" r="0.55" fill="none" stroke="#c4c4c4" stroke-width="0.4"/>
<circle cx="145.33" cy="586.65" r="0.55" fill="none" stroke="#c4c4c4" stroke-width="0.4"/>
<circle cx="145.60" cy="590.55" r="0.55" fill="none" stroke="#c4c4c4" stroke-width="0.4"/>
<circle cx="145.53" cy="585.35" r="0.55" fill="none" stroke="#c4c4c4" stroke-width="0.4"/>
<circle cx="145.87" cy="591.85" r="0.55" fill="none" stroke="#c4c4c4" stroke-width="0.4"/>
<circle cx="145.38" cy="584.05" r="0.55" fill="none" stroke="#c4c4c4" stroke-width="0.4"/>
<circle cx="145.90" cy="590.73" r="0.55" fill="none" stroke="#c4c4c4" stroke-width="0.4"/>
<circle cx="145.74" cy="582.75" r="0.55" fill="none" stroke="#c4c4c4" stroke-width="0.4"/>
<circle cx="145.42" cy="590.32" r="0.55" fill="none" stroke="#c4c4c4" stroke-width="0.4"/>
<circle cx="145.60" cy="591.92" r="0.55" fill="none" stroke="#c4c4c4" stroke-width="0.4"/>
<circle cx="145.85" cy="591.68" r="0.55" fill="none" stroke="#c4c4c4" stroke-width="0.4"/>
<circle cx="145.77" cy="584.09" r="0.55" fill="none" stroke="#c4c4c4" stroke-width="0.4"/>
<circle cx="145.34" cy="591.43" r="0.55" fill="none" stroke="#c4c4c4" stroke-width="0.4"/>
<circle cx="145.75" cy="585.87" r="0.55" fill="none" stroke="#c4c4c4" stroke-width="0.4"/>
<circle cx="145.84" cy="584.02" r="0.55" fill="none" stroke="#c4c4c4" stroke-width="0.4"/>
<circle cx="145.79" cy="585.14" r="0.55" fill="none" stroke="#c4c4c4" stroke-width="0.4"/>
<circle cx="145.60" cy="583.88" r="0.55" fill="none" stroke="#c4c4c4" stroke-width="0.4"/>
<circle cx="145.42" cy="591.33" r="0.55" fill="none" stroke="#c4c4c4" stroke-width="0.4"/>
<circle cx="145.60" cy="585.02" r="0.55" fill="none" stroke="#c4c4c4" stroke-width="0.4"/>
<circle cx="145.32" cy="585.56" r="0.55" fill="none" stroke="#c4c4c4" stroke-width="0.4"/>
<circle cx="145.40" cy="584.25" r="0.55" fill="none" stroke="#c4c4c4" stroke-width="0.4"/>
<circle cx="145.71" cy="591.49" r="0.55" fill="none" stroke="#c4c4c4" stroke-width="0.4"/>
<circle cx="145.40" cy="591.10" r="0.55" fill="none" stroke="#c4c4c4" stroke-width="0.4"/>
<circle cx="145.37" cy="590.03" r="0.55" fill="none" stroke="#c4c4c4" stroke-width="0.4"/>
<circle cx="145.68" cy="587.59" r="0.55" fill="none" stroke="#c4c4c4" stroke-width="0.4"/>
<circle cx="145.82" cy="585.95" r="0.55" fill="none" stroke="#c4c4c4" stroke-width="0.4"/>
<circle cx="145.65" cy="587.83" r="0.55" fill="none" stroke="#c4c4c4" stroke-width="0.4"/>
<circle cx="145.36" cy="590.97" r="0.55" fill="none" stroke="#c4c4c4" stroke-width="0.4"/>
<circle cx="145.68" cy="592.03" r="0.55" fill="none" stroke="#c4c4c4" stroke-width="0.4"/>
<circle cx="145.78" cy="586.28" r="0.55" fill="none" stroke="#c4c4c4" stroke-width="0.4"/>
<circle cx="145.89" cy="585.04" r="0.55" fill="none" stroke="#c4c4c4" stroke-width="0.4"/>
<circle cx="145.52" cy="588.04" r="0.55" fill="none" stroke="#c4c4c4" stroke-width="0.4"/>
<circle cx="145.57" cy="589.84" r="0.55" fill="none" stroke="#c4c4c4" stroke-width="0.4"/>
<circle cx="142.61" cy="587.30" r="0.55" fill="none" stroke="#c4c4c4" stroke-width="0.4"/>
<circle cx="142.95" cy="588.60" r="0.55" fill="none" stroke="#c4c4c4" stroke-width="0.4"/>
<circle cx="142.53" cy="586.00" r="0.55" fill="none" stroke="#c4c4c4" stroke-width="0.4"/>
<circle cx="142.99" cy="589.90" r="0.55" fill="none" stroke="#c4c4c4" stroke-width="0.4"/>
<circle cx="142.65" cy="584.70" r="0.55" fill="none" stroke="#c4c4c4" stroke-width="0.4"/>
<circle cx="142.88" cy="591.20" r="0.55" fill="none" stroke="#c4c4c4" stroke-width="0.4"/>
<circle cx="143.09" cy="583.40" r="0.55" fill="none" stroke="#c4c4c4" stroke-width="0.4"/>
<circle cx="142.90" cy="588.12" r="0.55" fill="none" stroke="#c4c4c4" stroke-width="0.4"/>
<circle cx="142.50" cy="585.50" r="0.55" fill="none" stroke="#c4c4c4" stroke-width="0.4"/>
<circle cx="142.59" cy="582.82" r="0.55" fill="none" stroke="#c4c4c4" stroke-width="0.4"/>
<circle cx="142.76" cy="588.41" r="0.55" fill="none" stroke="#c4c4c4" stroke-width="0.4"/>
<circle cx="143.04" cy="587.42" r="0.55" fill="none" stroke="#c4c4c4" stroke-width="0.4"/>
<circle cx="142.64" cy="583.77" r="0.55" fill="none" stroke="#c4c4c4" stroke-width="0.4"/>
<circle cx="142.51" cy="588.77" r="0.55" fill="none" stroke="#c4c4c4" stroke-width="0.4"/>
<circle cx="142.71" cy="582.53" r="0.55" fill="none" stroke="#c4c4c4" stroke-width="0.4"/>
<circle cx="142.71" cy="583.52" r="0.55" fill="none" stroke="#c4c4c4" stroke-width="0.4"/>
<circle cx="142.85" cy="584.65" r="0.55" fill="none" stroke="#c4c4c4" stroke-width="0.4"/>
<circle cx="142.62" cy="588.16" r="0.55" fill="none" stroke="#c4c4c4" stroke-width="0.4"/>
<circle cx="142.78" cy="588.49" r="0.55" fill="none" stroke="#c4c4c4" stroke-width="0.4"/>
<circle cx="149.58" cy="587.30" r="0.55" fill="none" stroke="#c4c4c4" stroke-width="0.4"/>
<circle cx="150.06" cy="588.60" r="0.55" fill="none" stroke="#c4c4c4" stroke-width="0.4"/>
<circle cx="149.65" cy="586.00" r="0.55" fill="none" stroke="#c4c4c4" stroke-width="0.4"/>
<circle cx="149.59" cy="589.90" r="0.55" fill="none" stroke="#c4c4c4" stroke-width="0.4"/>
<circle cx="149.56" cy="584.70" r="0.55" fill="none" stroke="#c4c4c4" stroke-width="0.4"/>
<circle cx="149.88" cy="591.20" r="0.55" fill="none" stroke="#c4c4c4" stroke-width="0.4"/>
<circle cx="150.02" cy="583.40" r="0.55" fill="none" stroke="#c4c4c4" stroke-width="0.4"/>
<circle cx="149.74" cy="590.01" r="0.55" fill="none" stroke="#c4c4c4" stroke-width="0.4"/>
<circle cx="149.51" cy="585.04" r="0.55" fill="none" stroke="#c4c4c4" stroke-width="0.4"/>
<circle cx="149.84" cy="588.69" r="0.55" fill="none" stroke="#c4c4c4" stroke-width="0.4"/>
<circle cx="149.89" cy="585.86" r="0.55" fill="none" stroke="#c4c4c4" stroke-width="0.4"/>
<circle cx="150.06" cy="586.76" r="0.55" fill="none" stroke="#c4c4c4" stroke-width="0.4"/>
<circle cx="149.65" cy="589.54" r="0.55" fill="none" stroke="#c4c4c4" stroke-width="0.4"/>
<circle cx="149.53" cy="591.17" r="0.55" fill="none" stroke="#c4c4c4" stroke-width="0.4"/>
<circle cx="149.74" cy="587.60" r="0.55" fill="none" stroke="#c4c4c4" stroke-width="0.4"/>
<circle cx="149.54" cy="584.78" r="0.55" fill="none" stroke="#c4c4c4" stroke-width="0.4"/>
<circle cx="149.51" cy="589.98" r="0.55" fill="none" stroke="#c4c4c4" stroke-width="0.4"/>
<circle cx="150.06" cy="587.79" r="0.55" fill="none" stroke="#c4c4c4" stroke-width="0.4"/>
<circle cx="149.62" cy="583.87" r="0.55" fill="none" stroke="#c4c4c4" stroke-width="0.4"/>
<circle cx="149.80" cy="588.34" r="0.55" fill="none" stroke="#c4c4c4" stroke-width="0.4"/>
<circle cx="149.99" cy="588.66" r="0.55" fill="none" stroke="#c4c4c4" stroke-width="0.4"/>
<circle cx="149.69" cy="584.18" r="0.55" fill="none" stroke="#c4c4c4" stroke-width="0.4"/>
<circle cx="149.53" cy="585.38" r="0.55" fill="none" stroke="#c4c4c4" stroke-width="0.4"/>
<circle cx="149.97" cy="591.04" r="0.55" fill="none" stroke="#c4c4c4" stroke-width="0.4"/>
<circle cx="149.50" cy="589.37" r="0.55" fill="none" stroke="#c4c4c4" stroke-width="0.4"/>
<circle cx="149.95" cy="590.61" r="0.55" fill="none" stroke="#c4c4c4" stroke-width="0.4"/>
<circle cx="149.95" cy="586.97" r="0.55" fill="none" stroke="#c4c4c4" stroke-width="0.4"/>
<circle cx="149.64" cy="586.84" r="0.55" fill="none" stroke="#c4c4c4" stroke-width="0.4"/>
<circle cx="149.64" cy="583.51" r="0.55" fill="none" stroke="#c4c4c4" stroke-width="0.4"/>
<circle cx="149.70" cy="582.87" r="0.55" fill="none" stroke="#c4c4c4" stroke-width="0.4"/>
<circle cx="149.92" cy="589.70" r="0.55" fill="none" stroke="#c4c4c4" stroke-width="0.4"/>
<circle cx="151.41" cy="587.95" r="0.55" fill="none" stroke="#c4c4c4" stroke-width="0.4"/>
<circle cx="151.33" cy="589.25" r="0.55" fill="none" stroke="#c4c4c4" stroke-width="0.4"/>
<circle cx="151.06" cy="586.65" r="0.55" fill="none" stroke="#c4c4c4" stroke-width="0.4"/>
<circle cx="151.23" cy="590.55" r="0.55" fill="none" stroke="#c4c4c4" stroke-width="0.4"/>
<circle cx="151.16" cy="585.35" r="0.55" fill="none" stroke="#c4c4c4" stroke-width="0.4"/>
<circle cx="151.37" cy="591.85" r="0.55" fill="none" stroke="#c4c4c4" stroke-width="0.4"/>
<circle cx="151.21" cy="584.05" r="0.55" fill="none" stroke="#c4c4c4" stroke-width="0.4"/>
<circle cx="151.29" cy="585.05" r="0.55" fill="none" stroke="#c4c4c4" stroke-width="0.4"/>
<circle cx="151.48" cy="582.75" r="0.55" fill="none" stroke="#c4c4c4" stroke-width="0.4"/>
<circle cx="151.43" cy="584.58" r="0.55" fill="none" stroke="#c4c4c4" stroke-width="0.4"/>
<circle cx="151.06" cy="582.65" r="0.55" fill="none" stroke="#c4c4c4" stroke-width="0.4"/>
<circle cx="151.35" cy="584.77" r="0.55" fill="none" stroke="#c4c4c4" stroke-width="0.4"/>
<circle cx="151.35" cy="591.57" r="0.55" fill="none" stroke="#c4c4c4" stroke-width="0.4"/>
<circle cx="151.43" cy="585.64" r="0.55" fill="none" stroke="#c4c4c4" stroke-width="0.4"/>
<circle cx="151.04" cy="585.65" r="0.55" fill="none" stroke="#c4c4c4" stroke-width="0.4"/>
<circle cx="151.28" cy="591.21" r="0.55" fill="none" stroke="#c4c4c4" stroke-width="0.4"/>
<circle cx="144.32" cy="587.95" r="0.55" fill="none" stroke="#c4c4c4" stroke-width="0.4"/>
<circle cx="144.30" cy="589.25" r="0.55" fill="none" stroke="#c4c4c4" stroke-width="0.4"/>
<circle cx="144.49" cy="586.65" r="0.55" fill="none" stroke="#c4c4c4" stroke-width="0.4"/>
<circle cx="144.18" cy="590.55" r="0.55" fill="none" stroke="#c4c4c4" stroke-width="0.4"/>
<circle cx="144.40" cy="585.35" r="0.55" fill="none" stroke="#c4c4c4" stroke-width="0.4"/>
<circle cx="144.32" cy="591.85" r="0.55" fill="none" stroke="#c4c4c4" stroke-width="0.4"/>
<circle cx="144.41" cy="584.05" r="0.55" fill="none" stroke="#c4c4c4" stroke-width="0.4"/>
<circle cx="144.33" cy="586.70" r="0.55" fill="none" stroke="#c4c4c4" stroke-width="0.4"/>
<circle cx="144.24" cy="582.75" r="0.55" fill="none" stroke="#c4c4c4" stroke-width="0.4"/>
<circle cx="144.03" cy="585.45" r="0.55" fill="none" stroke="#c4c4c4" stroke-width="0.4"/>
<circle cx="143.95" cy="588.48" r="0.55" fill="none" stroke="#c4c4c4" stroke-width="0.4"/>
<circle cx="143.99" cy="591.24" r="0.55" fill="none" stroke="#c4c4c4" stroke-width="0.4"/>
<circle cx="143.96" cy="582.76" r="0.55" fill="none" stroke="#c4c4c4" stroke-width="0.4"/>
<circle cx="144.11" cy="591.42" r="0.55" fill="none" stroke="#c4c4c4" stroke-width="0.4"/>
<circle cx="143.92" cy="583.86" r="0.55" fill="none" stroke="#c4c4c4" stroke-width="0.4"/>
<circle cx="144.32" cy="582.90" r="0.55" fill="none" stroke="#c4c4c4" stroke-width="0.4"/>
<circle cx="144.32" cy="588.59" r="0.55" fill="none" stroke="#c4c4c4" stroke-width="0.4"/>
<circle cx="143.94" cy="589.57" r="0.55" fill="none" stroke="#c4c4c4" stroke-width="0.4"/>
<circle cx="144.12" cy="588.17" r="0.55" fill="none" stroke="#c4c4c4" stroke-width="0.4"/>
<circle cx="144.39" cy="590.35" r="0.55" fill="none" stroke="#c4c4c4" stroke-width="0.4"/>
<circle cx="143.94" cy="591.06" r="0.55" fill="none" stroke="#c4c4c4" stroke-width="0.4"/>
<circle cx="144.45" cy="590.83" r="0.55" fill="none" stroke="#c4c4c4" stroke-width="0.4"/>
<circle cx="143.96" cy="591.57" r="0.55" fill="none" stroke="#c4c4c4" stroke-width="0.4"/>
<circle cx="143.97" cy="584.47" r="0.55" fill="none" stroke="#c4c4c4" stroke-width="0.4"/>
<circle cx="144.41" cy="582.83" r="0.55" fill="none" stroke="#c4c4c4" stroke-width="0.4"/>
<circle cx="144.28" cy="590.30" r="0.55" fill="none" stroke="#c4c4c4" stroke-width="0.4"/>
<circle cx="144.28" cy="590.42" r="0.55" fill="none" stroke="#c4c4c4" stroke-width="0.4"/>
<circle cx="143.96" cy="585.26" r="0.55" fill="none" stroke="#c4c4c4" stroke-width="0.4"/>
<circle cx="144.35" cy="583.44" r="0.55" fill="none" stroke="#c4c4c4" stroke-width="0.4"/>
<circle cx="144.09" cy="584.47" r="0.55" fill="none" stroke="#c4c4c4" stroke-width="0.4"/>
<circle cx="143.91" cy="586.57" r="0.55" fill="none" stroke="#c4c4c4" stroke-width="0.4"/>
<circle cx="144.07" cy="584.96" r="0.55" fill="none" stroke="#c4c4c4" stroke-width="0.4"/>
<circle cx="144.12" cy="589.37" r="0.55" fill="none" stroke="#c4c4c4" stroke-width="0.4"/>
<circle cx="144.48" cy="585.58" r="0.55" fill="none" stroke="#c4c4c4" stroke-width="0.4"/>
<circle cx="137.20" cy="587.30" r="0.55" fill="none" stroke="#c4c4c4" stroke-width="0.4"/>
<circle cx="137.41" cy="588.60" r="0.55" fill="none" stroke="#c4c4c4" stroke-width="0.4"/>
<circle cx="137.27" cy="586.00" r="0.55" fill="none" stroke="#c4c4c4" stroke-width="0.4"/>
<circle cx="136.92" cy="589.90" r="0.55" fill="none" stroke="#c4c4c4" stroke-width="0.4"/>
<circle cx="137.15" cy="584.70" r="0.55" fill="none" stroke="#c4c4c4" stroke-width="0.4"/>
<circle cx="137.16" cy="591.20" r="0.55" fill="none" stroke="#c4c4c4" stroke-width="0.4"/>
<circle cx="137.36" cy="583.40" r="0.55" fill="none" stroke="#c4c4c4" stroke-width="0.4"/>
<circle cx="137.32" cy="585.83" r="0.55" fill="none" stroke="#c4c4c4" stroke-width="0.4"/>
<circle cx="137.03" cy="587.66" r="0.55" fill="none" stroke="#c4c4c4" stroke-width="0.4"/>
<circle cx="136.95" cy="590.78" r="0.55" fill="none" stroke="#c4c4c4" stroke-width="0.4"/>
<circle cx="137.00" cy="590.37" r="0.55" fill="none" stroke="#c4c4c4" stroke-width="0.4"/>
<circle cx="152.30" cy="587.30" r="0.55" fill="none" stroke="#c4c4c4" stroke-width="0.4"/>
<circle cx="152.42" cy="588.60" r="0.55" fill="none" stroke="#c4c4c4" stroke-width="0.4"/>
<circle cx="152.76" cy="586.00" r="0.55" fill="none" stroke="#c4c4c4" stroke-width="0.4"/>
<circle cx="152.89" cy="589.90" r="0.55" fill="none" stroke="#c4c4c4" stroke-width="0.4"/>
<circle cx="152.30" cy="584.70" r="0.55" fill="none" stroke="#c4c4c4" stroke-width="0.4"/>
<circle cx="152.59" cy="591.20" r="0.55" fill="none" stroke="#c4c4c4" stroke-width="0.4"/>
<circle cx="152.59" cy="583.40" r="0.55" fill="none" stroke="#c4c4c4" stroke-width="0.4"/>
<circle cx="152.41" cy="590.15" r="0.55" fill="none" stroke="#c4c4c4" stroke-width="0.4"/>
<circle cx="152.51" cy="587.25" r="0.55" fill="none" stroke="#c4c4c4" stroke-width="0.4"/>
<circle cx="152.46" cy="590.49" r="0.55" fill="none" stroke="#c4c4c4" stroke-width="0.4"/>
<circle cx="152.47" cy="591.56" r="0.55" fill="none" stroke="#c4c4c4" stroke-width="0.4"/>
<circle cx="152.72" cy="584.56" r="0.55" fill="none" stroke="#c4c4c4" stroke-width="0.4"/>
<circle cx="152.37" cy="587.28" r="0.55" fill="none" stroke="#c4c4c4" stroke-width="0.4"/>
<circle cx="152.35" cy="588.61" r="0.55" fill="none" stroke="#c4c4c4" stroke-width="0.4"/>
<circle cx="152.72" cy="590.06" r="0.55" fill="none" stroke="#c4c4c4" stroke-width="0.4"/>
<circle cx="152.68" cy="590.05" r="0.55" fill="none" stroke="#c4c4c4" stroke-width="0.4"/>
<circle cx="152.54" cy="585.91" r="0.55" fill="none" stroke="#c4c4c4" stroke-width="0.4"/>
<circle cx="152.83" cy="586.29" r="0.55" fill="none" stroke="#c4c4c4" stroke-width="0.4"/>
<circle cx="152.83" cy="583.33" r="0.55" fill="none" stroke="#c4c4c4" stroke-width="0.4"/>
<circle cx="152.42" cy="582.74" r="0.55" fill="none" stroke="#c4c4c4" stroke-width="0.4"/>
<circle cx="152.84" cy="585.03" r="0.55" fill="none" stroke="#c4c4c4" stroke-width="0.4"/>
<circle cx="148.40" cy="587.30" r="0.55" fill="none" stroke="#c4c4c4" stroke-width="0.4"/>
<circle cx="148.33" cy="588.60" r="0.55" fill="none" stroke="#c4c4c4" stroke-width="0.4"/>
<circle cx="148.63" cy="586.00" r="0.55" fill="none" stroke="#c4c4c4" stroke-width="0.4"/>
<circle cx="148.24" cy="589.90" r="0.55" fill="none" stroke="#c4c4c4" stroke-width="0.4"/>
<circle cx="148.38" cy="584.70" r="0.55" fill="none" stroke="#c4c4c4" stroke-width="0.4"/>
<circle cx="148.42" cy="591.20" r="0.55" fill="none" stroke="#c4c4c4" stroke-width="0.4"/>
<circle cx="148.55" cy="583.40" r="0.55" fill="none" stroke="#c4c4c4" stroke-width="0.4"/>
<circle cx="148.49" cy="589.73" r="0.55" fill="none" stroke="#c4c4c4" stroke-width="0.4"/>
<circle cx="148.30" cy="585.85" r="0.55" fill="none" stroke="#c4c4c4" stroke-width="0.4"/>
<circle cx="148.61" cy="583.99" r="0.55" fill="none" stroke="#c4c4c4" stroke-width="0.4"/>
<circle cx="148.55" cy="588.86" r="0.55" fill="none" stroke="#c4c4c4" stroke-width="0.4"/>
<circle cx="148.36" cy="584.13" r="0.55" fill="none" stroke="#c4c4c4" stroke-width="0.4"/>
<circle cx="148.45" cy="589.92" r="0.55" fill="none" stroke="#c4c4c4" stroke-width="0.4"/>
<circle cx="148.38" cy="583.71" r="0.55" fill="none" stroke="#c4c4c4" stroke-width="0.4"/>
<circle cx="148.24" cy="591.00" r="0.55" fill="none" stroke="#c4c4c4" stroke-width="0.4"/>
<circle cx="148.28" cy="584.34" r="0.55" fill="none" stroke="#c4c4c4" stroke-width="0.4"/>
<circle cx="148.61" cy="589.25" r="0.55" fill="none" stroke="#c4c4c4" stroke-width="0.4"/>
<circle cx="148.19" cy="583.98" r="0.55" fill="none" stroke="#c4c4c4" stroke-width="0.4"/>
<circle cx="148.30" cy="584.88" r="0.55" fill="none" stroke="#c4c4c4" stroke-width="0.4"/>
<circle cx="148.20" cy="587.51" r="0.55" fill="none" stroke="#c4c4c4" stroke-width="0.4"/>
<circle cx="148.21" cy="585.65" r="0.55" fill="none" stroke="#c4c4c4" stroke-width="0.4"/>
<circle cx="148.54" cy="591.86" r="0.55" fill="none" stroke="#c4c4c4" stroke-width="0.4"/>
<circle cx="148.68" cy="583.48" r="0.55" fill="none" stroke="#c4c4c4" stroke-width="0.4"/>
<circle cx="138.36" cy="587.30" r="0.55" fill="none" stroke="#c4c4c4" stroke-width="0.4"/>
<circle cx="138.53" cy="588.60" r="0.55" fill="none" stroke="#c4c4c4" stroke-width="0.4"/>
<circle cx="138.89" cy="586.00" r="0.55" fill="none" stroke="#c4c4c4" stroke-width="0.4"/>
<circle cx="138.78" cy="589.90" r="0.55" fill="none" stroke="#c4c4c4" stroke-width="0.4"/>
<circle cx="138.74" cy="584.70" r="0.55" fill="none" stroke="#c4c4c4" stroke-width="0.4"/>
<circle cx="138.56" cy="591.20" r="0.55" fill="none" stroke="#c4c4c4" stroke-width="0.4"/>
<circle cx="138.42" cy="583.40" r="0.55" fill="none" stroke="#c4c4c4" stroke-width="0.4"/>
<circle cx="138.36" cy="588.62" r="0.55" fill="none" stroke="#c4c4c4" stroke-width="0.4"/>
<circle cx="138.53" cy="584.48" r="0.55" fill="none" stroke="#c4c4c4" stroke-width="0.4"/>
<circle cx="138.54" cy="582.83" r="0.55" fill="none" stroke="#c4c4c4" stroke-width="0.4"/>
<circle cx="138.72" cy="590.09" r="0.55" fill="none" stroke="#c4c4c4" stroke-width="0.4"/>
<circle cx="138.68" cy="587.30" r="0.55" fill="none" stroke="#c4c4c4" stroke-width="0.4"/>
<circle cx="138.39" cy="586.95" r="0.55" fill="none" stroke="#c4c4c4" stroke-width="0.4"/>
<circle cx="138.54" cy="588.30" r="0.55" fill="none" stroke="#c4c4c4" stroke-width="0.4"/>
<circle cx="138.84" cy="589.61" r="0.55" fill="none" stroke="#c4c4c4" stroke-width="0.4"/>
<circle cx="138.64" cy="586.63" r="0.55" fill="none" stroke="#c4c4c4" stroke-width="0.4"/>
<circle cx="138.55" cy="589.69" r="0.55" fill="none" stroke="#c4c4c4" stroke-width="0.4"/>
<circle cx="138.73" cy="584.69" r="0.55" fill="none" stroke="#c4c4c4" stroke-width="0.4"/>
<circle cx="138.76" cy="590.95" r="0.55" fill="none" stroke="#c4c4c4" stroke-width="0.4"/>
<circle cx="138.81" cy="589.22" r="0.55" fill="none" stroke="#c4c4c4" stroke-width="0.4"/>
<circle cx="138.68" cy="589.02" r="0.55" fill="none" stroke="#c4c4c4" stroke-width="0.4"/>
<circle cx="138.49" cy="586.86" r="0.55" fill="none" stroke="#c4c4c4" stroke-width="0.4"/>
<circle cx="138.36" cy="588.53" r="0.55" fill="none" stroke="#c4c4c4" stroke-width="0.4"/>
<circle cx="138.77" cy="586.53" r="0.55" fill="none" stroke="#c4c4c4" stroke-width="0.4"/>
<circle cx="138.68" cy="589.35" r="0.55" fill="none" stroke="#c4c4c4" stroke-width="0.4"/>
<circle cx="131.45" cy="587.30" r="0.55" fill="none" stroke="#c4c4c4" stroke-width="0.4"/>
<circle cx="131.55" cy="588.60" r="0.55" fill="none" stroke="#c4c4c4" stroke-width="0.4"/>
<circle cx="131.57" cy="586.00" r="0.55" fill="none" stroke="#c4c4c4" stroke-width="0.4"/>
<circle cx="131.67" cy="589.90" r="0.55" fill="none" stroke="#c4c4c4" stroke-width="0.4"/>
<circle cx="131.55" cy="584.70" r="0.55" fill="none" stroke="#c4c4c4" stroke-width="0.4"/>
<circle cx="131.71" cy="591.20" r="0.55" fill="none" stroke="#c4c4c4" stroke-width="0.4"/>
<circle cx="131.86" cy="583.40" r="0.55" fill="none" stroke="#c4c4c4" stroke-width="0.4"/>
<circle cx="141.21" cy="587.95" r="0.55" fill="none" stroke="#c4c4c4" stroke-width="0.4"/>
<circle cx="141.49" cy="589.25" r="0.55" fill="none" stroke="#c4c4c4" stroke-width="0.4"/>
<circle cx="141.57" cy="586.65" r="0.55" fill="none" stroke="#c4c4c4" stroke-width="0.4"/>
<circle cx="141.33" cy="590.55" r="0.55" fill="none" stroke="#c4c4c4" stroke-width="0.4"/>
<circle cx="141.39" cy="585.35" r="0.55" fill="none" stroke="#c4c4c4" stroke-width="0.4"/>
<circle cx="141.68" cy="591.85" r="0.55" fill="none" stroke="#c4c4c4" stroke-width="0.4"/>
<circle cx="141.12" cy="584.05" r="0.55" fill="none" stroke="#c4c4c4" stroke-width="0.4"/>
<circle cx="141.20" cy="587.72" r="0.55" fill="none" stroke="#c4c4c4" stroke-width="0.4"/>
<circle cx="141.57" cy="582.75" r="0.55" fill="none" stroke="#c4c4c4" stroke-width="0.4"/>
<circle cx="141.41" cy="591.53" r="0.55" fill="none" stroke="#c4c4c4" stroke-width="0.4"/>
<circle cx="141.44" cy="583.47" r="0.55" fill="none" stroke="#c4c4c4" stroke-width="0.4"/>
<circle cx="141.53" cy="587.69" r="0.55" fill="none" stroke="#c4c4c4" stroke-width="0.4"/>
<circle cx="141.48" cy="587.42" r="0.55" fill="none" stroke="#c4c4c4" stroke-width="0.4"/>
<circle cx="141.41" cy="590.46" r="0.55" fill="none" stroke="#c4c4c4" stroke-width="0.4"/>
<circle cx="141.67" cy="586.44" r="0.55" fill="none" stroke="#c4c4c4" stroke-width="0.4"/>
<circle cx="141.51" cy="584.52" r="0.55" fill="none" stroke="#c4c4c4" stroke-width="0.4"/>
<circle cx="141.56" cy="586.27" r="0.55" fill="none" stroke="#c4c4c4" stroke-width="0.4"/>
<circle cx="141.69" cy="583.67" r="0.55" fill="none" stroke="#c4c4c4" stroke-width="0.4"/>
<circle cx="141.13" cy="585.91" r="0.55" fill="none" stroke="#c4c4c4" stroke-width="0.4"/>
<circle cx="141.34" cy="585.13" r="0.55" fill="none" stroke="#c4c4c4" stroke-width="0.4"/>
<circle cx="141.35" cy="582.63" r="0.55" fill="none" stroke="#c4c4c4" stroke-width="0.4"/>
<circle cx="141.52" cy="586.54" r="0.55" fill="none" stroke="#c4c4c4" stroke-width="0.4"/>
<circle cx="134.31" cy="587.95" r="0.55" fill="none" stroke="#c4c4c4" stroke-width="0.4"/>
<circle cx="134.26" cy="589.25" r="0.55" fill="none" stroke="#c4c4c4" stroke-width="0.4"/>
<circle cx="134.23" cy="586.65" r="0.55" fill="none" stroke="#c4c4c4" stroke-width="0.4"/>
<circle cx="134.54" cy="590.55" r="0.55" fill="none" stroke="#c4c4c4" stroke-width="0.4"/>
<circle cx="134.66" cy="585.35" r="0.55" fill="none" stroke="#c4c4c4" stroke-width="0.4"/>
<circle cx="134.42" cy="591.85" r="0.55" fill="none" stroke="#c4c4c4" stroke-width="0.4"/>
<circle cx="134.23" cy="584.05" r="0.55" fill="none" stroke="#c4c4c4" stroke-width="0.4"/>
<circle cx="134.34" cy="590.19" r="0.55" fill="none" stroke="#c4c4c4" stroke-width="0.4"/>
<circle cx="134.23" cy="582.75" r="0.55" fill="none" stroke="#c4c4c4" stroke-width="0.4"/>
<circle cx="134.57" cy="583.74" r="0.55" fill="none" stroke="#c4c4c4" stroke-width="0.4"/>
<circle cx="134.48" cy="590.27" r="0.55" fill="none" stroke="#c4c4c4" stroke-width="0.4"/>
<circle cx="134.44" cy="587.00" r="0.55" fill="none" stroke="#c4c4c4" stroke-width="0.4"/>
<circle cx="139.84" cy="587.30" r="0.55" fill="none" stroke="#c4c4c4" stroke-width="0.4"/>
<circle cx="140.28" cy="588.60" r="0.55" fill="none" stroke="#c4c4c4" stroke-width="0.4"/>
<circle cx="139.91" cy="586.00" r="0.55" fill="none" stroke="#c4c4c4" stroke-width="0.4"/>
<circle cx="140.08" cy="589.90" r="0.55" fill="none" stroke="#c4c4c4" stroke-width="0.4"/>
<circle cx="140.19" cy="584.70" r="0.55" fill="none" stroke="#c4c4c4" stroke-width="0.4"/>
<circle cx="140.19" cy="591.20" r="0.55" fill="none" stroke="#c4c4c4" stroke-width="0.4"/>
<circle cx="139.98" cy="583.40" r="0.55" fill="none" stroke="#c4c4c4" stroke-width="0.4"/>
<circle cx="140.03" cy="585.33" r="0.55" fill="none" stroke="#c4c4c4" stroke-width="0.4"/>
<circle cx="140.20" cy="583.70" r="0.55" fill="none" stroke="#c4c4c4" stroke-width="0.4"/>
<circle cx="140.21" cy="585.91" r="0.55" fill="none" stroke="#c4c4c4" stroke-width="0.4"/>
<circle cx="139.93" cy="585.07" r="0.55" fill="none" stroke="#c4c4c4" stroke-width="0.4"/>
<circle cx="139.96" cy="584.93" r="0.55" fill="none" stroke="#c4c4c4" stroke-width="0.4"/>
<circle cx="139.70" cy="584.28" r="0.55" fill="none" stroke="#c4c4c4" stroke-width="0.4"/>
<circle cx="139.87" cy="589.43" r="0.55" fill="none" stroke="#c4c4c4" stroke-width="0.4"/>
<circle cx="139.88" cy="584.85" r="0.55" fill="none" stroke="#c4c4c4" stroke-width="0.4"/>
<circle cx="139.96" cy="587.10" r="0.55" fill="none" stroke="#c4c4c4" stroke-width="0.4"/>
<circle cx="140.10" cy="588.62" r="0.55" fill="none" stroke="#c4c4c4" stroke-width="0.4"/>
<circle cx="140.26" cy="585.98" r="0.55" fill="none" stroke="#c4c4c4" stroke-width="0.4"/>
<circle cx="139.73" cy="590.70" r="0.55" fill="none" stroke="#c4c4c4" stroke-width="0.4"/>
<circle cx="168.20" cy="587.95" r="0.55" fill="none" stroke="#c4c4c4" stroke-width="0.4"/>
<circle cx="168.24" cy="589.25" r="0.55" fill="none" stroke="#c4c4c4" stroke-width="0.4"/>
<circle cx="168.17" cy="586.65" r="0.55" fill="none" stroke="#c4c4c4" stroke-width="0.4"/>
<circle cx="167.78" cy="590.55" r="0.55" fill="none" stroke="#c4c4c4" stroke-width="0.4"/>
<circle cx="168.20" cy="585.35" r="0.55" fill="none" stroke="#c4c4c4" stroke-width="0.4"/>
<circle cx="168.08" cy="591.85" r="0.55" fill="none" stroke="#c4c4c4" stroke-width="0.4"/>
<circle cx="167.71" cy="584.05" r="0.55" fill="none" stroke="#c4c4c4" stroke-width="0.4"/>
<circle cx="168.27" cy="582.61" r="0.55" fill="none" stroke="#c4c4c4" stroke-width="0.4"/>
<circle cx="168.09" cy="582.75" r="0.55" fill="none" stroke="#c4c4c4" stroke-width="0.4"/>
<circle cx="167.76" cy="584.90" r="0.55" fill="none" stroke="#c4c4c4" stroke-width="0.4"/>
<circle cx="155.19" cy="587.95" r="0.55" fill="none" stroke="#c4c4c4" stroke-width="0.4"/>
<circle cx="155.24" cy="589.25" r="0.55" fill="none" stroke="#c4c4c4" stroke-width="0.4"/>
<circle cx="155.57" cy="586.65" r="0.55" fill="none" stroke="#c4c4c4" stroke-width="0.4"/>
<circle cx="155.31" cy="590.55" r="0.55" fill="none" stroke="#c4c4c4" stroke-width="0.4"/>
<circle cx="155.19" cy="585.35" r="0.55" fill="none" stroke="#c4c4c4" stroke-width="0.4"/>
<circle cx="155.64" cy="591.85" r="0.55" fill="none" stroke="#c4c4c4" stroke-width="0.4"/>
<circle cx="155.58" cy="584.05" r="0.55" fill="none" stroke="#c4c4c4" stroke-width="0.4"/>
<circle cx="155.63" cy="584.11" r="0.55" fill="none" stroke="#c4c4c4" stroke-width="0.4"/>
<circle cx="147.07" cy="587.30" r="0.55" fill="none" stroke="#c4c4c4" stroke-width="0.4"/>
<circle cx="147.17" cy="588.60" r="0.55" fill="none" stroke="#c4c4c4" stroke-width="0.4"/>
<circle cx="147.10" cy="586.00" r="0.55" fill="none" stroke="#c4c4c4" stroke-width="0.4"/>
<circle cx="147.24" cy="589.90" r="0.55" fill="none" stroke="#c4c4c4" stroke-width="0.4"/>
<circle cx="147.17" cy="584.70" r="0.55" fill="none" stroke="#c4c4c4" stroke-width="0.4"/>
<circle cx="147.20" cy="591.20" r="0.55" fill="none" stroke="#c4c4c4" stroke-width="0.4"/>
<circle cx="146.82" cy="583.40" r="0.55" fill="none" stroke="#c4c4c4" stroke-width="0.4"/>
<circle cx="147.02" cy="589.15" r="0.55" fill="none" stroke="#c4c4c4" stroke-width="0.4"/>
<circle cx="146.96" cy="589.62" r="0.55" fill="none" stroke="#c4c4c4" stroke-width="0.4"/>
<circle cx="147.03" cy="590.97" r="0.55" fill="none" stroke="#c4c4c4" stroke-width="0.4"/>
<circle cx="146.84" cy="585.04" r="0.55" fill="none" stroke="#c4c4c4" stroke-width="0.4"/>
<circle cx="147.00" cy="583.84" r="0.55" fill="none" stroke="#c4c4c4" stroke-width="0.4"/>
<circle cx="146.98" cy="583.06" r="0.55" fill="none" stroke="#c4c4c4" stroke-width="0.4"/>
<circle cx="146.99" cy="583.89" r="0.55" fill="none" stroke="#c4c4c4" stroke-width="0.4"/>
<circle cx="147.02" cy="587.28" r="0.55" fill="none" stroke="#c4c4c4" stroke-width="0.4"/>
<circle cx="146.70" cy="590.78" r="0.55" fill="none" stroke="#c4c4c4" stroke-width="0.4"/>
<circle cx="146.98" cy="590.57" r="0.55" fill="none" stroke="#c4c4c4" stroke-width="0.4"/>
<circle cx="147.10" cy="587.90" r="0.55" fill="none" stroke="#c4c4c4" stroke-width="0.4"/>
<circle cx="146.92" cy="590.57" r="0.55" fill="none" stroke="#c4c4c4" stroke-width="0.4"/>
<circle cx="156.75" cy="587.30" r="0.55" fill="none" stroke="#c4c4c4" stroke-width="0.4"/>
<circle cx="157.08" cy="588.60" r="0.55" fill="none" stroke="#c4c4c4" stroke-width="0.4"/>
<circle cx="156.55" cy="586.00" r="0.55" fill="none" stroke="#c4c4c4" stroke-width="0.4"/>
<circle cx="156.88" cy="589.90" r="0.55" fill="none" stroke="#c4c4c4" stroke-width="0.4"/>
<circle cx="156.88" cy="584.70" r="0.55" fill="none" stroke="#c4c4c4" stroke-width="0.4"/>
<circle cx="156.52" cy="591.20" r="0.55" fill="none" stroke="#c4c4c4" stroke-width="0.4"/>
<circle cx="156.87" cy="583.40" r="0.55" fill="none" stroke="#c4c4c4" stroke-width="0.4"/>
<circle cx="157.06" cy="589.05" r="0.55" fill="none" stroke="#c4c4c4" stroke-width="0.4"/>
<circle cx="157.09" cy="585.67" r="0.55" fill="none" stroke="#c4c4c4" stroke-width="0.4"/>
<circle cx="154.01" cy="587.30" r="0.55" fill="none" stroke="#c4c4c4" stroke-width="0.4"/>
<circle cx="153.99" cy="588.60" r="0.55" fill="none" stroke="#c4c4c4" stroke-width="0.4"/>
<circle cx="154.24" cy="586.00" r="0.55" fill="none" stroke="#c4c4c4" stroke-width="0.4"/>
<circle cx="153.72" cy="589.90" r="0.55" fill="none" stroke="#c4c4c4" stroke-width="0.4"/>
<circle cx="154.13" cy="584.70" r="0.55" fill="none" stroke="#c4c4c4" stroke-width="0.4"/>
<circle cx="154.08" cy="591.20" r="0.55" fill="none" stroke="#c4c4c4" stroke-width="0.4"/>
<circle cx="153.90" cy="583.40" r="0.55" fill="none" stroke="#c4c4c4" stroke-width="0.4"/>
<circle cx="153.92" cy="590.77" r="0.55" fill="none" stroke="#c4c4c4" stroke-width="0.4"/>
<circle cx="154.02" cy="587.06" r="0.55" fill="none" stroke="#c4c4c4" stroke-width="0.4"/>
<circle cx="153.83" cy="589.90" r="0.55" fill="none" stroke="#c4c4c4" stroke-width="0.4"/>
<circle cx="153.95" cy="586.68" r="0.55" fill="none" stroke="#c4c4c4" stroke-width="0.4"/>
<circle cx="154.20" cy="587.82" r="0.55" fill="none" stroke="#c4c4c4" stroke-width="0.4"/>
<circle cx="154.20" cy="585.31" r="0.55" fill="none" stroke="#c4c4c4" stroke-width="0.4"/>
<circle cx="154.00" cy="586.38" r="0.55" fill="none" stroke="#c4c4c4" stroke-width="0.4"/>
<circle cx="154.00" cy="585.11" r="0.55" fill="none" stroke="#c4c4c4" stroke-width="0.4"/>
<circle cx="154.09" cy="591.86" r="0.55" fill="none" stroke="#c4c4c4" stroke-width="0.4"/>
<circle cx="153.90" cy="590.10" r="0.55" fill="none" stroke="#c4c4c4" stroke-width="0.4"/>
<circle cx="135.69" cy="587.30" r="0.55" fill="none" stroke="#c4c4c4" stroke-width="0.4"/>
<circle cx="135.68" cy="588.60" r="0.55" fill="none" stroke="#c4c4c4" stroke-width="0.4"/>
<circle cx="135.85" cy="586.00" r="0.55" fill="none" stroke="#c4c4c4" stroke-width="0.4"/>
<circle cx="135.88" cy="589.90" r="0.55" fill="none" stroke="#c4c4c4" stroke-width="0.4"/>
<circle cx="135.97" cy="584.70" r="0.55" fill="none" stroke="#c4c4c4" stroke-width="0.4"/>
<circle cx="135.52" cy="591.20" r="0.55" fill="none" stroke="#c4c4c4" stroke-width="0.4"/>
<circle cx="135.93" cy="583.40" r="0.55" fill="none" stroke="#c4c4c4" stroke-width="0.4"/>
<circle cx="135.83" cy="591.00" r="0.55" fill="none" stroke="#c4c4c4" stroke-width="0.4"/>
<circle cx="135.68" cy="582.98" r="0.55" fill="none" stroke="#c4c4c4" stroke-width="0.4"/>
<circle cx="164.90" cy="587.30" r="0.55" fill="none" stroke="#c4c4c4" stroke-width="0.4"/>
<circle cx="165.01" cy="588.60" r="0.55" fill="none" stroke="#c4c4c4" stroke-width="0.4"/>
<circle cx="165.45" cy="586.00" r="0.55" fill="none" stroke="#c4c4c4" stroke-width="0.4"/>
<circle cx="165.27" cy="589.90" r="0.55" fill="none" stroke="#c4c4c4" stroke-width="0.4"/>
<circle cx="165.29" cy="584.70" r="0.55" fill="none" stroke="#c4c4c4" stroke-width="0.4"/>
<circle cx="165.37" cy="591.20" r="0.55" fill="none" stroke="#c4c4c4" stroke-width="0.4"/>
<circle cx="165.45" cy="583.40" r="0.55" fill="none" stroke="#c4c4c4" stroke-width="0.4"/>
<circle cx="162.47" cy="587.95" r="0.55" fill="none" stroke="#c4c4c4" stroke-width="0.4"/>
<circle cx="162.47" cy="589.25" r="0.55" fill="none" stroke="#c4c4c4" stroke-width="0.4"/>
<circle cx="162.48" cy="586.65" r="0.55" fill="none" stroke="#c4c4c4" stroke-width="0.4"/>
<circle cx="162.52" cy="590.55" r="0.55" fill="none" stroke="#c4c4c4" stroke-width="0.4"/>
<circle cx="162.46" cy="585.35" r="0.55" fill="none" stroke="#c4c4c4" stroke-width="0.4"/>
<circle cx="162.51" cy="591.85" r="0.55" fill="none" stroke="#c4c4c4" stroke-width="0.4"/>
<circle cx="162.23" cy="584.05" r="0.55" fill="none" stroke="#c4c4c4" stroke-width="0.4"/>
<circle cx="162.37" cy="588.90" r="0.55" fill="none" stroke="#c4c4c4" stroke-width="0.4"/>
<circle cx="161.16" cy="587.95" r="0.55" fill="none" stroke="#c4c4c4" stroke-width="0.4"/>
<circle cx="160.76" cy="589.25" r="0.55" fill="none" stroke="#c4c4c4" stroke-width="0.4"/>
<circle cx="160.81" cy="586.65" r="0.55" fill="none" stroke="#c4c4c4" stroke-width="0.4"/>
<circle cx="160.72" cy="590.55" r="0.55" fill="none" stroke="#c4c4c4" stroke-width="0.4"/>
<circle cx="161.16" cy="585.35" r="0.55" fill="none" stroke="#c4c4c4" stroke-width="0.4"/>
<circle cx="161.25" cy="591.85" r="0.55" fill="none" stroke="#c4c4c4" stroke-width="0.4"/>
<circle cx="161.09" cy="584.05" r="0.55" fill="none" stroke="#c4c4c4" stroke-width="0.4"/>
<circle cx="161.19" cy="586.04" r="0.55" fill="none" stroke="#c4c4c4" stroke-width="0.4"/>
<circle cx="161.17" cy="582.75" r="0.55" fill="none" stroke="#c4c4c4" stroke-width="0.4"/>
<circle cx="160.85" cy="587.90" r="0.55" fill="none" stroke="#c4c4c4" stroke-width="0.4"/>
<circle cx="158.08" cy="587.95" r="0.55" fill="none" stroke="#c4c4c4" stroke-width="0.4"/>
<circle cx="158.15" cy="589.25" r="0.55" fill="none" stroke="#c4c4c4" stroke-width="0.4"/>
<circle cx="158.09" cy="586.65" r="0.55" fill="none" stroke="#c4c4c4" stroke-width="0.4"/>
<circle cx="158.16" cy="590.55" r="0.55" fill="none" stroke="#c4c4c4" stroke-width="0.4"/>
<circle cx="158.29" cy="585.35" r="0.55" fill="none" stroke="#c4c4c4" stroke-width="0.4"/>
<circle cx="158.46" cy="591.85" r="0.55" fill="none" stroke="#c4c4c4" stroke-width="0.4"/>
<circle cx="157.93" cy="584.05" r="0.55" fill="none" stroke="#c4c4c4" stroke-width="0.4"/>
<circle cx="157.92" cy="587.95" r="0.55" fill="none" stroke="#c4c4c4" stroke-width="0.4"/>
<circle cx="159.37" cy="587.30" r="0.55" fill="none" stroke="#c4c4c4" stroke-width="0.4"/>
<circle cx="159.79" cy="588.60" r="0.55" fill="none" stroke="#c4c4c4" stroke-width="0.4"/>
<circle cx="159.65" cy="586.00" r="0.55" fill="none" stroke="#c4c4c4" stroke-width="0.4"/>
<circle cx="159.85" cy="589.90" r="0.55" fill="none" stroke="#c4c4c4" stroke-width="0.4"/>
<circle cx="159.57" cy="584.70" r="0.55" fill="none" stroke="#c4c4c4" stroke-width="0.4"/>
<circle cx="159.31" cy="591.20" r="0.55" fill="none" stroke="#c4c4c4" stroke-width="0.4"/>
<circle cx="159.53" cy="583.40" r="0.55" fill="none" stroke="#c4c4c4" stroke-width="0.4"/>
<circle cx="159.86" cy="588.18" r="0.55" fill="none" stroke="#c4c4c4" stroke-width="0.4"/>
<circle cx="159.59" cy="591.92" r="0.55" fill="none" stroke="#c4c4c4" stroke-width="0.4"/>
<circle cx="166.55" cy="587.95" r="0.55" fill="none" stroke="#c4c4c4" stroke-width="0.4"/>
<circle cx="166.36" cy="589.25" r="0.55" fill="none" stroke="#c4c4c4" stroke-width="0.4"/>
<circle cx="166.69" cy="586.65" r="0.55" fill="none" stroke="#c4c4c4" stroke-width="0.4"/>
<circle cx="166.43" cy="590.55" r="0.55" fill="none" stroke="#c4c4c4" stroke-width="0.4"/>
<circle cx="166.39" cy="585.35" r="0.55" fill="none" stroke="#c4c4c4" stroke-width="0.4"/>
<circle cx="166.31" cy="591.85" r="0.55" fill="none" stroke="#c4c4c4" stroke-width="0.4"/>
<circle cx="166.30" cy="584.05" r="0.55" fill="none" stroke="#c4c4c4" stroke-width="0.4"/>
<circle cx="166.37" cy="589.06" r="0.55" fill="none" stroke="#c4c4c4" stroke-width="0.4"/>
<circle cx="129.08" cy="587.30" r="0.55" fill="none" stroke="#c4c4c4" stroke-width="0.4"/>
<circle cx="128.55" cy="588.60" r="0.55" fill="none" stroke="#c4c4c4" stroke-width="0.4"/>
<circle cx="129.02" cy="586.00" r="0.55" fill="none" stroke="#c4c4c4" stroke-width="0.4"/>
<circle cx="132.78" cy="587.95" r="0.55" fill="none" stroke="#c4c4c4" stroke-width="0.4"/>
<circle cx="132.71" cy="589.25" r="0.55" fill="none" stroke="#c4c4c4" stroke-width="0.4"/>
<circle cx="133.13" cy="586.65" r="0.55" fill="none" stroke="#c4c4c4" stroke-width="0.4"/>
<circle cx="132.85" cy="590.55" r="0.55" fill="none" stroke="#c4c4c4" stroke-width="0.4"/>
<circle cx="133.14" cy="585.35" r="0.55" fill="none" stroke="#c4c4c4" stroke-width="0.4"/>
<circle cx="132.81" cy="591.85" r="0.55" fill="none" stroke="#c4c4c4" stroke-width="0.4"/>
<circle cx="129.93" cy="587.30" r="0.55" fill="none" stroke="#c4c4c4" stroke-width="0.4"/>
<circle cx="130.36" cy="588.60" r="0.55" fill="none" stroke="#c4c4c4" stroke-width="0.4"/>
<circle cx="130.33" cy="586.00" r="0.55" fill="none" stroke="#c4c4c4" stroke-width="0.4"/>
<circle cx="130.41" cy="589.90" r="0.55" fill="none" stroke="#c4c4c4" stroke-width="0.4"/>
<circle cx="130.34" cy="584.70" r="0.55" fill="none" stroke="#c4c4c4" stroke-width="0.4"/>
<circle cx="129.95" cy="591.20" r="0.55" fill="none" stroke="#c4c4c4" stroke-width="0.4"/>
<circle cx="130.28" cy="583.40" r="0.55" fill="none" stroke="#c4c4c4" stroke-width="0.4"/>
<circle cx="130.18" cy="589.31" r="0.55" fill="none" stroke="#c4c4c4" stroke-width="0.4"/>
<circle cx="130.05" cy="591.45" r="0.55" fill="none" stroke="#c4c4c4" stroke-width="0.4"/>
<circle cx="127.68" cy="587.95" r="0.55" fill="none" stroke="#c4c4c4" stroke-width="0.4"/>
<circle cx="127.53" cy="589.25" r="0.55" fill="none" stroke="#c4c4c4" stroke-width="0.4"/>
<circle cx="127.11" cy="586.65" r="0.55" fill="none" stroke="#c4c4c4" stroke-width="0.4"/>
<circle cx="127.11" cy="590.55" r="0.55" fill="none" stroke="#c4c4c4" stroke-width="0.4"/>
<circle cx="126.09" cy="587.30" r="0.55" fill="none" stroke="#c4c4c4" stroke-width="0.4"/>
<circle cx="126.19" cy="588.60" r="0.55" fill="none" stroke="#c4c4c4" stroke-width="0.4"/>
<circle cx="125.75" cy="586.00" r="0.55" fill="none" stroke="#c4c4c4" stroke-width="0.4"/>
<circle cx="163.69" cy="587.30" r="0.55" fill="none" stroke="#c4c4c4" stroke-width="0.4"/>
<circle cx="163.94" cy="588.60" r="0.55" fill="none" stroke="#c4c4c4" stroke-width="0.4"/>
<circle cx="163.60" cy="586.00" r="0.55" fill="none" stroke="#c4c4c4" stroke-width="0.4"/>
<circle cx="123.42" cy="587.95" r="0.55" fill="none" stroke="#c4c4c4" stroke-width="0.4"/>
<circle cx="123.19" cy="589.25" r="0.55" fill="none" stroke="#c4c4c4" stroke-width="0.4"/>
<circle cx="122.94" cy="586.65" r="0.55" fill="none" stroke="#c4c4c4" stroke-width="0.4"/>
<circle cx="123.12" cy="590.55" r="0.55" fill="none" stroke="#c4c4c4" stroke-width="0.4"/>
<circle cx="184.84" cy="587.30" r="0.55" fill="none" stroke="#c4c4c4" stroke-width="0.4"/>
<circle cx="184.76" cy="588.60" r="0.55" fill="none" stroke="#c4c4c4" stroke-width="0.4"/>
<circle cx="184.91" cy="586.00" r="0.55" fill="none" stroke="#c4c4c4" stroke-width="0.4"/>
<circle cx="108.99" cy="587.30" r="0.55" fill="none" stroke="#c4c4c4" stroke-width="0.4"/>
<circle cx="113.58" cy="587.95" r="0.55" fill="none" stroke="#c4c4c4" stroke-width="0.4"/>
<circle cx="113.32" cy="589.25" r="0.55" fill="none" stroke="#c4c4c4" stroke-width="0.4"/>
<circle cx="112.09" cy="587.95" r="0.55" fill="none" stroke="#c4c4c4" stroke-width="0.4"/>
<circle cx="112.08" cy="589.25" r="0.55" fill="none" stroke="#c4c4c4" stroke-width="0.4"/>
<circle cx="118.95" cy="587.95" r="0.55" fill="none" stroke="#c4c4c4" stroke-width="0.4"/>
<circle cx="118.93" cy="589.25" r="0.55" fill="none" stroke="#c4c4c4" stroke-width="0.4"/>
<circle cx="173.77" cy="587.30" r="0.55" fill="none" stroke="#c4c4c4" stroke-width="0.4"/>
<circle cx="173.87" cy="588.60" r="0.55" fill="none" stroke="#c4c4c4" stroke-width="0.4"/>
<circle cx="173.77" cy="586.00" r="0.55" fill="none" stroke="#c4c4c4" stroke-width="0.4"/>
<circle cx="173.64" cy="589.90" r="0.55" fill="none" stroke="#c4c4c4" stroke-width="0.4"/>
<circle cx="173.48" cy="584.70" r="0.55" fill="none" stroke="#c4c4c4" stroke-width="0.4"/>
<circle cx="173.34" cy="591.20" r="0.55" fill="none" stroke="#c4c4c4" stroke-width="0.4"/>
<circle cx="173.88" cy="583.40" r="0.55" fill="none" stroke="#c4c4c4" stroke-width="0.4"/>
<circle cx="200.32" cy="587.30" r="0.55" fill="none" stroke="#c4c4c4" stroke-width="0.4"/>
<circle cx="192.00" cy="587.30" r="0.55" fill="none" stroke="#c4c4c4" stroke-width="0.4"/>
<circle cx="204.30" cy="587.30" r="0.55" fill="none" stroke="#c4c4c4" stroke-width="0.4"/>
<circle cx="177.86" cy="587.30" r="0.55" fill="none" stroke="#c4c4c4" stroke-width="0.4"/>
<circle cx="178.09" cy="588.60" r="0.55" fill="none" stroke="#c4c4c4" stroke-width="0.4"/>
<circle cx="178.00" cy="586.00" r="0.55" fill="none" stroke="#c4c4c4" stroke-width="0.4"/>
<circle cx="177.86" cy="589.90" r="0.55" fill="none" stroke="#c4c4c4" stroke-width="0.4"/>
<circle cx="177.69" cy="584.70" r="0.55" fill="none" stroke="#c4c4c4" stroke-width="0.4"/>
<circle cx="103.56" cy="587.30" r="0.55" fill="none" stroke="#c4c4c4" stroke-width="0.4"/>
<circle cx="194.83" cy="587.30" r="0.55" fill="none" stroke="#c4c4c4" stroke-width="0.4"/>
<circle cx="186.13" cy="587.30" r="0.55" fill="none" stroke="#c4c4c4" stroke-width="0.4"/>
<circle cx="193.31" cy="587.30" r="0.55" fill="none" stroke="#c4c4c4" stroke-width="0.4"/>
<circle cx="105.06" cy="587.30" r="0.55" fill="none" stroke="#c4c4c4" stroke-width="0.4"/>
<circle cx="196.24" cy="587.95" r="0.55" fill="none" stroke="#c4c4c4" stroke-width="0.4"/>
<circle cx="196.18" cy="589.25" r="0.55" fill="none" stroke="#c4c4c4" stroke-width="0.4"/>
<circle cx="117.47" cy="587.30" r="0.55" fill="none" stroke="#c4c4c4" stroke-width="0.4"/>
<circle cx="197.10" cy="587.95" r="0.55" fill="none" stroke="#c4c4c4" stroke-width="0.4"/>
<circle cx="197.26" cy="589.25" r="0.55" fill="none" stroke="#c4c4c4" stroke-width="0.4"/>
<circle cx="201.55" cy="587.30" r="0.55" fill="none" stroke="#c4c4c4" stroke-width="0.4"/>
<circle cx="116.25" cy="587.30" r="0.55" fill="none" stroke="#c4c4c4" stroke-width="0.4"/>
<circle cx="198.99" cy="587.30" r="0.55" fill="none" stroke="#c4c4c4" stroke-width="0.4"/>
<circle cx="203.23" cy="587.30" r="0.55" fill="none" stroke="#c4c4c4" stroke-width="0.4"/>
<circle cx="107.53" cy="587.30" r="0.55" fill="none" stroke="#c4c4c4" stroke-width="0.4"/>
<circle cx="183.60" cy="587.95" r="0.55" fill="none" stroke="#c4c4c4" stroke-width="0.4"/>
<circle cx="183.59" cy="589.25" r="0.55" fill="none" stroke="#c4c4c4" stroke-width="0.4"/>
<circle cx="183.62" cy="586.65" r="0.55" fill="none" stroke="#c4c4c4" stroke-width="0.4"/>
<circle cx="183.44" cy="590.55" r="0.55" fill="none" stroke="#c4c4c4" stroke-width="0.4"/>
<circle cx="181.86" cy="587.95" r="0.55" fill="none" stroke="#c4c4c4" stroke-width="0.4"/>
<circle cx="182.21" cy="589.25" r="0.55" fill="none" stroke="#c4c4c4" stroke-width="0.4"/>
<circle cx="182.18" cy="586.65" r="0.55" fill="none" stroke="#c4c4c4" stroke-width="0.4"/>
<circle cx="182.11" cy="590.55" r="0.55" fill="none" stroke="#c4c4c4" stroke-width="0.4"/>
<circle cx="172.45" cy="587.30" r="0.55" fill="none" stroke="#c4c4c4" stroke-width="0.4"/>
<circle cx="172.11" cy="588.60" r="0.55" fill="none" stroke="#c4c4c4" stroke-width="0.4"/>
<circle cx="171.95" cy="586.00" r="0.55" fill="none" stroke="#c4c4c4" stroke-width="0.4"/>
<circle cx="172.23" cy="589.90" r="0.55" fill="none" stroke="#c4c4c4" stroke-width="0.4"/>
<circle cx="172.38" cy="584.70" r="0.55" fill="none" stroke="#c4c4c4" stroke-width="0.4"/>
<circle cx="174.82" cy="587.30" r="0.55" fill="none" stroke="#c4c4c4" stroke-width="0.4"/>
<circle cx="175.15" cy="588.60" r="0.55" fill="none" stroke="#c4c4c4" stroke-width="0.4"/>
<circle cx="175.26" cy="586.00" r="0.55" fill="none" stroke="#c4c4c4" stroke-width="0.4"/>
<circle cx="180.44" cy="587.95" r="0.55" fill="none" stroke="#c4c4c4" stroke-width="0.4"/>
<circle cx="180.66" cy="589.25" r="0.55" fill="none" stroke="#c4c4c4" stroke-width="0.4"/>
<circle cx="176.51" cy="587.30" r="0.55" fill="none" stroke="#c4c4c4" stroke-width="0.4"/>
<circle cx="176.38" cy="588.60" r="0.55" fill="none" stroke="#c4c4c4" stroke-width="0.4"/>
<circle cx="176.22" cy="586.00" r="0.55" fill="none" stroke="#c4c4c4" stroke-width="0.4"/>
<circle cx="169.25" cy="587.30" r="0.55" fill="none" stroke="#c4c4c4" stroke-width="0.4"/>
<circle cx="179.35" cy="587.30" r="0.55" fill="none" stroke="#c4c4c4" stroke-width="0.4"/>
<line x1="144.89" y1="579.80" x2="144.89" y2="595.20" stroke="#c4506a" stroke-width="0.7"/>
<line x1="146.80" y1="579.80" x2="146.80" y2="595.20" stroke="#c4506a" stroke-width="0.7"/>
<text x="0" y="0" transform="translate(281.50 478.00) scale(1 1.0)" font-size="10.6" fill="#000" font-weight="bold" stroke="#000" stroke-width="0.2">G</text>
<text x="0" y="0" transform="translate(404.00 478.50) scale(1 1.05)" font-size="8.9" text-anchor="middle" textLength="26" lengthAdjust="spacingAndGlyphs" stroke="#1a1a1a" stroke-width="0.18">MALT1</text>
<line x1="330.50" y1="604.00" x2="330.50" y2="484.20" stroke="#1a1a1a" stroke-width="1.45"/>
<line x1="330.00" y1="603.50" x2="479.50" y2="603.50" stroke="#1a1a1a" stroke-width="1.45"/>
<line x1="327.50" y1="598.30" x2="330.50" y2="598.30" stroke="#1a1a1a" stroke-width="0.9"/>
<text x="0" y="0" transform="translate(324.50 600.81) scale(1 1.0)" font-size="7.3" text-anchor="end" stroke="#1a1a1a" stroke-width="0.2">0.00</text>
<line x1="327.50" y1="571.04" x2="330.50" y2="571.04" stroke="#1a1a1a" stroke-width="0.9"/>
<text x="0" y="0" transform="translate(324.50 573.55) scale(1 1.0)" font-size="7.3" text-anchor="end" stroke="#1a1a1a" stroke-width="0.2">0.25</text>
<line x1="327.50" y1="543.77" x2="330.50" y2="543.77" stroke="#1a1a1a" stroke-width="0.9"/>
<text x="0" y="0" transform="translate(324.50 546.29) scale(1 1.0)" font-size="7.3" text-anchor="end" stroke="#1a1a1a" stroke-width="0.2">0.50</text>
<line x1="327.50" y1="516.51" x2="330.50" y2="516.51" stroke="#1a1a1a" stroke-width="0.9"/>
<text x="0" y="0" transform="translate(324.50 519.02) scale(1 1.0)" font-size="7.3" text-anchor="end" stroke="#1a1a1a" stroke-width="0.2">0.75</text>
<line x1="327.50" y1="489.25" x2="330.50" y2="489.25" stroke="#1a1a1a" stroke-width="0.9"/>
<text x="0" y="0" transform="translate(324.50 491.76) scale(1 1.0)" font-size="7.3" text-anchor="end" stroke="#1a1a1a" stroke-width="0.2">1.00</text>
<line x1="337.20" y1="603.50" x2="337.20" y2="606.50" stroke="#1a1a1a" stroke-width="1.0"/>
<text x="0" y="0" transform="translate(337.20 616.00) scale(1 0.93)" font-size="7.8" text-anchor="middle" stroke="#1a1a1a" stroke-width="0.2">0</text>
<line x1="371.00" y1="603.50" x2="371.00" y2="606.50" stroke="#1a1a1a" stroke-width="1.0"/>
<text x="0" y="0" transform="translate(371.00 616.00) scale(1 0.93)" font-size="7.8" text-anchor="middle" stroke="#1a1a1a" stroke-width="0.2">500</text>
<line x1="404.80" y1="603.50" x2="404.80" y2="606.50" stroke="#1a1a1a" stroke-width="1.0"/>
<text x="0" y="0" transform="translate(404.80 616.00) scale(1 0.93)" font-size="7.8" text-anchor="middle" stroke="#1a1a1a" stroke-width="0.2">1000</text>
<line x1="438.60" y1="603.50" x2="438.60" y2="606.50" stroke="#1a1a1a" stroke-width="1.0"/>
<text x="0" y="0" transform="translate(438.60 616.00) scale(1 0.93)" font-size="7.8" text-anchor="middle" stroke="#1a1a1a" stroke-width="0.2">1500</text>
<line x1="472.40" y1="603.50" x2="472.40" y2="606.50" stroke="#1a1a1a" stroke-width="1.0"/>
<text x="0" y="0" transform="translate(472.40 616.00) scale(1 0.93)" font-size="7.8" text-anchor="middle" stroke="#1a1a1a" stroke-width="0.2">2000</text>
<text x="0" y="0" transform="translate(404.90 628.90) scale(1 1.0)" font-size="9.0" text-anchor="middle" textLength="33" lengthAdjust="spacingAndGlyphs" stroke="#1a1a1a" stroke-width="0.38">Time (days)</text>
<text x="0" y="0" font-size="8.8" text-anchor="middle" textLength="53.5" lengthAdjust="spacingAndGlyphs" stroke="#1a1a1a" stroke-width="0.38" transform="translate(303.40 543.30) rotate(-90) scale(1 1.0)">Survival probability</text>
<text x="0" y="0" transform="translate(341.20 579.78) scale(1 1.0)" font-size="7.8" stroke="#1a1a1a" stroke-width="0.2"><tspan font-style="italic">P</tspan> = .026</text>
<path d="M337.40 489.20 L339.64 489.20 L339.64 489.80 L341.89 489.80 L341.89 490.40 L344.13 490.40 L344.13 491.00 L346.37 491.00 L346.37 491.60 L348.61 491.60 L348.61 492.20 L350.86 492.20 L350.86 492.80 L353.10 492.80 L353.10 493.40 L355.41 493.40 L355.41 494.04 L357.73 494.04 L357.73 494.67 L360.04 494.67 L360.04 495.31 L362.35 495.31 L362.35 495.95 L364.66 495.95 L364.66 496.59 L366.98 496.59 L366.98 497.23 L369.29 497.23 L369.29 497.86 L371.60 497.86 L371.60 498.50 L373.90 498.50 L373.90 499.65 L376.20 499.65 L376.20 500.80 L378.50 500.80 L378.50 501.95 L380.80 501.95 L380.80 503.10 L383.10 503.10 L383.10 504.25 L385.40 504.25 L385.40 505.40 L387.72 505.40 L387.72 506.17 L390.03 506.17 L390.03 506.93 L392.35 506.93 L392.35 507.70 L394.67 507.70 L394.67 508.47 L396.98 508.47 L396.98 509.23 L399.30 509.23 L399.30 510.00 L401.60 510.00 L401.60 512.30 L403.90 512.30 L403.90 514.60 L406.43 514.60 L406.43 515.13 L408.97 515.13 L408.97 515.67 L411.50 515.67 L411.50 516.20 L413.80 516.20 L413.80 516.82 L416.10 516.82 L416.10 517.44 L418.40 517.44 L418.40 518.06 L420.70 518.06 L420.70 518.68 L423.00 518.68 L423.00 519.30 L425.33 519.30 L425.33 519.83 L427.67 519.83 L427.67 520.37 L430.00 520.37 L430.00 520.90 L432.33 520.90 L432.33 521.43 L434.67 521.43 L434.67 521.97 L437.00 521.97 L437.00 522.50 L439.30 522.50 L439.30 523.25 L441.60 523.25 L441.60 524.00 L443.90 524.00 L443.90 524.75 L446.20 524.75 L446.20 525.50 L448.46 525.50 L448.46 526.16 L450.72 526.16 L450.72 526.82 L452.98 526.82 L452.98 527.48 L455.24 527.48 L455.24 528.14 L457.50 528.14 L457.50 528.80" stroke="#2a5f86" stroke-width="1.1" fill="none"/>
<path d="M457.50 528.14 L457.50 528.80 L460.33 528.80 L460.33 529.03 L463.17 529.03 L463.17 529.27 L466.00 529.27 L466.00 529.50 L467.00 529.50 L467.00 533.00 L469.50 533.00 L469.50 533.00 L472.00 533.00 L472.00 533.00 L474.50 533.00 L474.50 533.00 L477.00 533.00 L477.00 533.00 L479.50 533.00 L479.50 533.00 L482.00 533.00 L482.00 533.00" stroke="#2a5f86" stroke-width="1.0" fill="none" stroke-dasharray="1.6 1.4"/>
<path d="M337.40 489.20 L339.60 489.20 L339.60 490.25 L341.80 490.25 L341.80 491.30 L344.00 491.30 L344.00 492.35 L346.20 492.35 L346.20 493.40 L348.50 493.40 L348.50 494.43 L350.80 494.43 L350.80 495.47 L353.10 495.47 L353.10 496.50 L355.40 496.50 L355.40 497.53 L357.70 497.53 L357.70 498.57 L360.00 498.57 L360.00 499.60 L362.32 499.60 L362.32 501.00 L364.64 501.00 L364.64 502.40 L366.96 502.40 L366.96 503.80 L369.28 503.80 L369.28 505.20 L371.60 505.20 L371.60 506.60 L374.45 506.60 L374.45 509.45 L377.30 509.45 L377.30 512.30 L379.90 512.30 L379.90 513.17 L382.50 513.17 L382.50 514.05 L385.10 514.05 L385.10 514.92 L387.70 514.92 L387.70 515.80 L390.16 515.80 L390.16 516.58 L392.62 516.58 L392.62 517.36 L395.08 517.36 L395.08 518.14 L397.54 518.14 L397.54 518.92 L400.00 518.92 L400.00 519.70 L402.30 519.70 L402.30 520.48 L404.60 520.48 L404.60 521.26 L406.90 521.26 L406.90 522.04 L409.20 522.04 L409.20 522.82 L411.50 522.82 L411.50 523.60 L413.81 523.60 L413.81 523.86 L416.13 523.86 L416.13 524.11 L418.44 524.11 L418.44 524.37 L420.76 524.37 L420.76 524.63 L423.07 524.63 L423.07 524.89 L425.39 524.89 L425.39 525.14 L427.70 525.14 L427.70 525.40 L430.20 525.40 L430.20 525.78 L432.70 525.78 L432.70 526.17 L435.20 526.17 L435.20 526.55 L437.70 526.55 L437.70 526.93 L440.20 526.93 L440.20 527.32 L442.70 527.32 L442.70 527.70 L442.70 531.90 L445.02 531.90 L445.02 532.22 L447.34 532.22 L447.34 532.54 L449.66 532.54 L449.66 532.86 L451.98 532.86 L451.98 533.18 L454.30 533.18 L454.30 533.50 L456.60 533.50 L456.60 537.00 L458.20 537.00 L458.20 540.90 L460.58 540.90 L460.58 540.90 L462.96 540.90 L462.96 540.90 L465.34 540.90 L465.34 540.90 L467.72 540.90 L467.72 540.90 L470.10 540.90 L470.10 540.90 L472.48 540.90 L472.48 540.90 L474.86 540.90 L474.86 540.90 L477.24 540.90 L477.24 540.90 L479.62 540.90 L479.62 540.90 L482.00 540.90 L482.00 540.90" stroke="#bf2239" stroke-width="1.1" fill="none"/>
<line x1="337.40" y1="488.00" x2="337.40" y2="490.40" stroke="#2a5f86" stroke-width="0.6"/>
<line x1="341.89" y1="488.60" x2="341.89" y2="491.00" stroke="#2a5f86" stroke-width="0.6"/>
<line x1="344.13" y1="489.80" x2="344.13" y2="492.20" stroke="#2a5f86" stroke-width="0.6"/>
<line x1="348.61" y1="490.40" x2="348.61" y2="492.80" stroke="#2a5f86" stroke-width="0.6"/>
<line x1="350.86" y1="491.60" x2="350.86" y2="494.00" stroke="#2a5f86" stroke-width="0.6"/>
<line x1="355.41" y1="492.20" x2="355.41" y2="494.60" stroke="#2a5f86" stroke-width="0.6"/>
<line x1="357.73" y1="493.47" x2="357.73" y2="495.87" stroke="#2a5f86" stroke-width="0.6"/>
<line x1="362.35" y1="494.11" x2="362.35" y2="496.51" stroke="#2a5f86" stroke-width="0.6"/>
<line x1="364.66" y1="495.39" x2="364.66" y2="497.79" stroke="#2a5f86" stroke-width="0.6"/>
<line x1="369.29" y1="496.03" x2="369.29" y2="498.43" stroke="#2a5f86" stroke-width="0.6"/>
<line x1="371.60" y1="497.30" x2="371.60" y2="499.70" stroke="#2a5f86" stroke-width="0.6"/>
<line x1="376.20" y1="498.45" x2="376.20" y2="500.85" stroke="#2a5f86" stroke-width="0.6"/>
<line x1="378.50" y1="500.75" x2="378.50" y2="503.15" stroke="#2a5f86" stroke-width="0.6"/>
<line x1="383.10" y1="501.90" x2="383.10" y2="504.30" stroke="#2a5f86" stroke-width="0.6"/>
<line x1="385.40" y1="504.20" x2="385.40" y2="506.60" stroke="#2a5f86" stroke-width="0.6"/>
<line x1="390.03" y1="504.97" x2="390.03" y2="507.37" stroke="#2a5f86" stroke-width="0.6"/>
<line x1="392.35" y1="506.50" x2="392.35" y2="508.90" stroke="#2a5f86" stroke-width="0.6"/>
<line x1="396.98" y1="507.27" x2="396.98" y2="509.67" stroke="#2a5f86" stroke-width="0.6"/>
<line x1="399.30" y1="508.80" x2="399.30" y2="511.20" stroke="#2a5f86" stroke-width="0.6"/>
<line x1="403.90" y1="511.10" x2="403.90" y2="513.50" stroke="#2a5f86" stroke-width="0.6"/>
<line x1="406.43" y1="513.93" x2="406.43" y2="516.33" stroke="#2a5f86" stroke-width="0.6"/>
<line x1="411.50" y1="514.47" x2="411.50" y2="516.87" stroke="#2a5f86" stroke-width="0.6"/>
<line x1="413.80" y1="515.62" x2="413.80" y2="518.02" stroke="#2a5f86" stroke-width="0.6"/>
<line x1="418.40" y1="516.24" x2="418.40" y2="518.64" stroke="#2a5f86" stroke-width="0.6"/>
<line x1="420.70" y1="517.48" x2="420.70" y2="519.88" stroke="#2a5f86" stroke-width="0.6"/>
<line x1="425.33" y1="518.10" x2="425.33" y2="520.50" stroke="#2a5f86" stroke-width="0.6"/>
<line x1="427.67" y1="519.17" x2="427.67" y2="521.57" stroke="#2a5f86" stroke-width="0.6"/>
<line x1="432.33" y1="519.70" x2="432.33" y2="522.10" stroke="#2a5f86" stroke-width="0.6"/>
<line x1="434.67" y1="520.77" x2="434.67" y2="523.17" stroke="#2a5f86" stroke-width="0.6"/>
<line x1="439.30" y1="521.30" x2="439.30" y2="523.70" stroke="#2a5f86" stroke-width="0.6"/>
<line x1="441.60" y1="522.80" x2="441.60" y2="525.20" stroke="#2a5f86" stroke-width="0.6"/>
<line x1="446.20" y1="523.55" x2="446.20" y2="525.95" stroke="#2a5f86" stroke-width="0.6"/>
<line x1="448.46" y1="524.96" x2="448.46" y2="527.36" stroke="#2a5f86" stroke-width="0.6"/>
<line x1="452.98" y1="525.62" x2="452.98" y2="528.02" stroke="#2a5f86" stroke-width="0.6"/>
<line x1="455.24" y1="526.94" x2="455.24" y2="529.34" stroke="#2a5f86" stroke-width="0.6"/>
<line x1="460.33" y1="527.60" x2="460.33" y2="530.00" stroke="#2a5f86" stroke-width="0.6"/>
<line x1="463.17" y1="528.07" x2="463.17" y2="530.47" stroke="#2a5f86" stroke-width="0.6"/>
<line x1="467.00" y1="528.30" x2="467.00" y2="530.70" stroke="#2a5f86" stroke-width="0.6"/>
<line x1="469.50" y1="531.80" x2="469.50" y2="534.20" stroke="#2a5f86" stroke-width="0.6"/>
<line x1="474.50" y1="531.80" x2="474.50" y2="534.20" stroke="#2a5f86" stroke-width="0.6"/>
<line x1="477.00" y1="531.80" x2="477.00" y2="534.20" stroke="#2a5f86" stroke-width="0.6"/>
<line x1="482.00" y1="531.80" x2="482.00" y2="534.20" stroke="#2a5f86" stroke-width="0.6"/>
<text x="436.3" y="489.8" font-size="7" fill="#2b5f8f">+</text>
<text x="436.3" y="499.8" font-size="7" fill="#c5243f">+</text>
<text x="0" y="0" transform="translate(442.80 489.78) scale(1 1.0)" font-size="7.2" textLength="35.2" lengthAdjust="spacingAndGlyphs" stroke="#1a1a1a" stroke-width="0.2">data = Low</text>
<text x="0" y="0" transform="translate(442.80 499.78) scale(1 1.0)" font-size="7.2" textLength="36.5" lengthAdjust="spacingAndGlyphs" stroke="#1a1a1a" stroke-width="0.2">data = High</text>
</g>
<rect x="0.5" y="0.5" width="519" height="637" fill="none" stroke="#5e5e5e" stroke-width="1"/>
</svg></body></html>
